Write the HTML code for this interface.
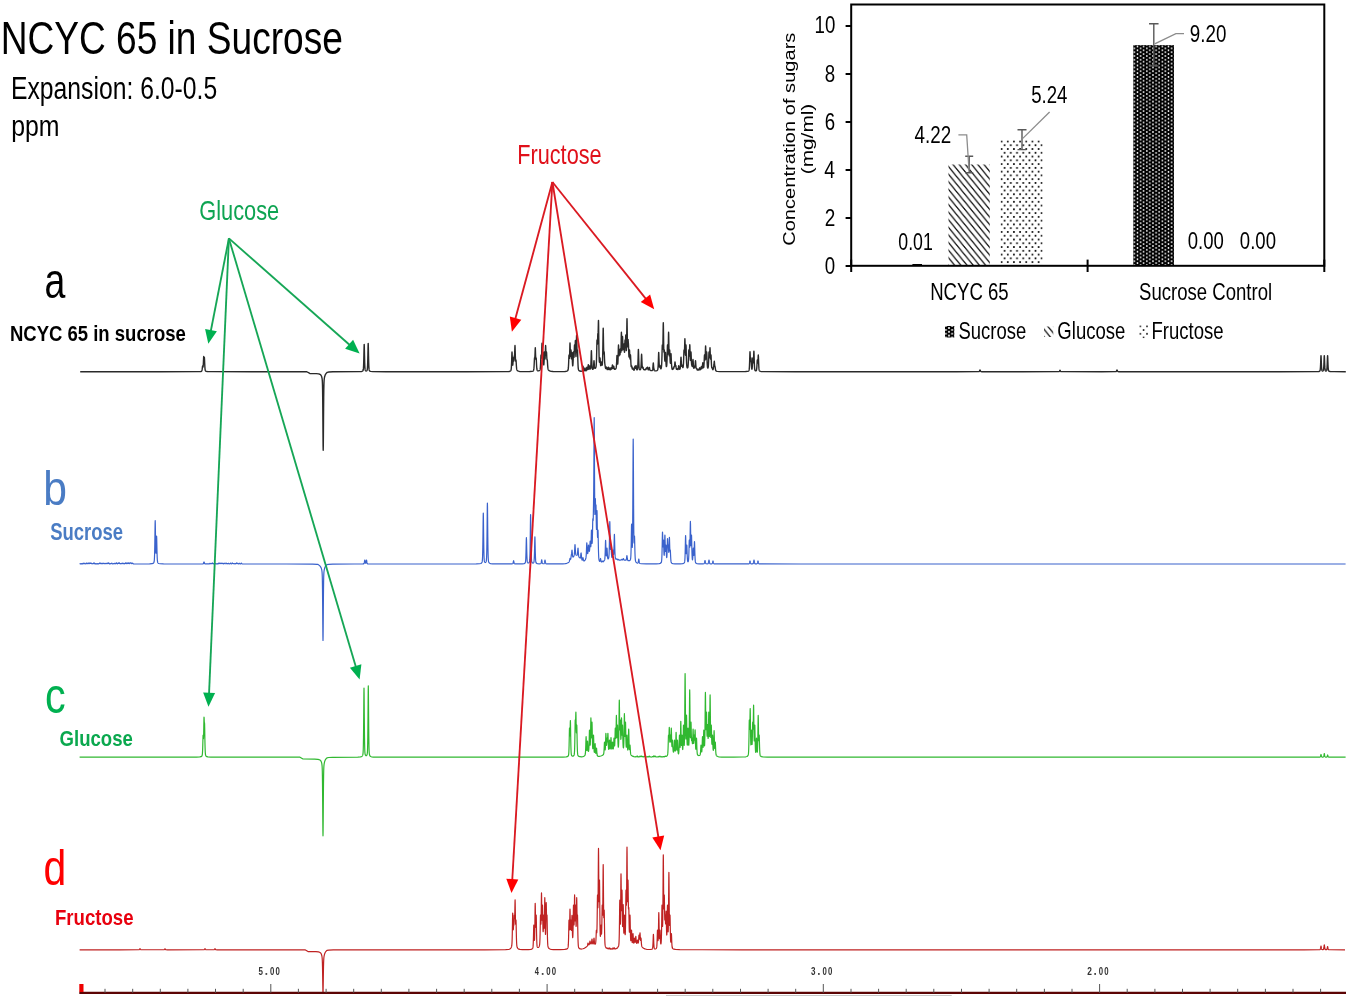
<!DOCTYPE html>
<html><head><meta charset="utf-8"><style>
html,body{margin:0;padding:0;background:#fff;width:1350px;height:999px;overflow:hidden}
svg{display:block;will-change:transform}
</style></head><body>
<svg width="1350" height="999" viewBox="0 0 1350 999">
<path d="M80.2,371.70 120.3,371.70 160.4,371.70 198.4,371.64 200.8,371.48 201.5,371.24 201.7,371.04 201.8,370.87 201.9,370.60 202.0,370.23 202.1,369.71 202.2,369.05 202.3,368.23 202.5,366.46 202.6,366.00 202.7,366.14 202.9,367.01 203.0,367.11 203.1,366.76 203.2,365.90 203.3,364.48 203.4,362.53 203.6,357.88 203.7,356.50 203.8,356.57 203.9,357.46 204.0,358.21 204.1,358.39 204.2,357.97 204.3,357.38 204.4,357.50 204.5,358.93 204.7,363.56 204.8,365.61 204.9,367.25 205.0,368.50 205.1,369.40 205.2,370.02 205.3,370.44 205.4,370.71 205.6,371.01 206.1,371.33 207.3,371.55 212.0,371.67 252.1,371.70 292.2,371.71 306.8,371.74 309.8,373.46 316.3,373.61 318.6,373.88 319.8,374.24 320.5,374.69 321.0,375.25 321.3,375.76 321.6,376.50 321.8,377.18 322.0,378.10 322.1,378.70 322.2,379.49 322.3,380.63 322.4,382.43 322.5,385.41 322.6,390.29 322.7,397.76 322.8,408.16 322.9,420.97 323.0,434.50 323.1,445.66 323.2,450.20 323.3,445.66 323.4,434.50 323.5,420.97 323.6,408.16 323.7,397.76 323.8,390.29 323.9,385.41 324.0,382.43 324.1,380.63 324.2,379.49 324.3,378.65 324.4,377.99 324.6,376.96 324.8,376.16 325.1,375.25 325.5,374.37 326.0,373.59 326.8,372.68 327.2,372.32 328.9,372.01 332.9,371.81 359.7,371.61 361.7,371.43 362.5,371.14 362.9,370.78 363.1,370.38 363.2,370.04 363.3,369.49 363.4,368.65 363.5,367.35 363.6,365.45 363.7,362.82 363.8,359.37 363.9,355.14 364.0,350.44 364.1,346.23 364.2,344.41 364.3,346.22 364.4,350.42 364.5,355.12 364.6,359.33 364.7,362.77 364.8,365.39 364.9,367.28 365.0,368.56 365.1,369.40 365.2,369.92 365.3,370.26 365.5,370.62 365.8,370.86 366.3,370.94 366.7,370.79 367.0,370.44 367.1,370.22 367.2,369.87 367.3,369.32 367.4,368.46 367.5,367.13 367.6,365.17 367.7,362.44 367.8,358.88 367.9,354.51 368.0,349.64 368.1,345.28 368.2,343.41 368.3,345.29 368.4,349.66 368.5,354.54 368.6,358.92 368.7,362.49 368.8,365.23 368.9,367.20 369.0,368.54 369.1,369.42 369.2,369.98 369.3,370.34 369.5,370.75 369.9,371.13 370.7,371.42 372.7,371.60 386.0,371.69 426.1,371.70 466.2,371.69 505.7,371.62 508.9,371.47 510.0,371.23 510.5,370.95 510.8,370.62 510.9,370.44 511.0,370.17 511.1,369.76 511.2,369.15 511.3,368.22 511.4,366.87 511.5,365.01 511.6,362.58 511.7,359.62 511.8,356.32 511.9,353.34 512.0,352.00 512.1,353.13 512.2,355.89 512.3,358.92 512.4,361.54 512.5,363.50 512.6,364.71 512.7,365.17 512.8,364.90 512.9,363.97 513.0,362.51 513.2,358.92 513.3,358.00 513.4,358.39 513.6,360.61 513.7,361.17 513.8,361.03 513.9,360.20 514.0,358.77 514.1,357.12 514.2,356.00 514.3,355.84 514.4,356.04 514.5,355.77 514.6,354.58 514.7,352.40 514.8,349.46 514.9,346.60 515.0,345.50 515.1,347.23 515.2,350.78 515.3,354.50 515.4,357.58 515.5,359.72 515.6,360.88 515.7,361.15 515.8,360.73 515.9,360.10 516.0,360.00 516.1,360.95 516.2,362.60 516.3,364.36 516.4,365.92 516.5,367.19 516.6,368.18 516.7,368.91 516.8,369.43 516.9,369.80 517.1,370.23 517.5,370.67 518.3,371.11 519.5,371.43 521.9,371.59 529.8,371.55 532.1,371.36 532.9,371.11 533.3,370.82 533.5,370.50 533.6,370.24 533.7,369.83 533.8,369.24 533.9,368.39 534.0,367.22 534.1,365.68 534.2,363.78 534.4,359.43 534.5,358.00 534.6,357.68 534.7,357.83 534.8,357.59 534.9,356.50 535.0,354.47 535.2,348.96 535.3,347.80 535.4,349.22 535.6,355.30 535.7,357.62 535.8,358.95 535.9,359.29 536.0,358.83 536.1,358.08 536.2,358.00 536.3,359.22 536.4,361.30 536.5,363.50 536.6,365.43 536.7,367.00 536.8,368.20 536.9,369.07 537.0,369.67 537.1,370.07 537.2,370.34 537.4,370.62 537.8,370.85 538.5,370.90 539.2,370.70 539.7,370.32 539.9,370.02 540.0,369.79 540.1,369.45 540.2,368.94 540.3,368.19 540.4,367.11 540.5,365.64 540.6,363.73 540.7,361.39 540.8,358.76 540.9,356.31 541.0,355.00 541.1,355.38 541.2,356.72 541.3,357.88 541.4,358.22 541.5,357.47 541.6,355.53 541.7,352.47 541.8,348.63 541.9,344.96 542.0,343.30 542.1,344.80 542.2,348.29 542.3,351.94 542.4,354.75 542.5,356.39 542.6,356.78 542.7,356.02 542.8,354.40 542.9,352.64 543.0,352.00 543.1,353.31 543.2,355.91 543.3,358.71 543.4,361.14 543.5,363.01 543.6,364.27 543.7,364.90 543.8,364.88 543.9,364.23 544.0,362.94 544.1,361.04 544.2,358.59 544.3,355.79 544.4,353.22 544.5,352.00 544.6,352.83 544.8,357.03 544.9,358.48 545.0,358.96 545.1,358.34 545.2,356.60 545.3,353.84 545.4,350.38 545.5,347.07 545.6,345.50 545.7,346.66 545.9,352.34 546.0,354.37 546.1,355.28 546.2,355.07 546.3,353.94 546.4,352.53 546.5,352.00 546.6,353.12 546.8,357.33 546.9,358.84 547.0,359.64 547.1,359.83 547.2,359.73 547.3,360.00 547.4,361.11 547.6,364.44 547.7,365.91 547.8,367.10 547.9,368.02 548.0,368.71 548.1,369.19 548.2,369.53 548.4,369.95 548.8,370.38 549.6,370.85 551.0,371.27 553.1,371.52 559.3,371.59 564.9,371.45 566.6,371.22 567.4,370.90 567.8,370.53 568.0,370.14 568.1,369.80 568.2,369.28 568.3,368.52 568.4,367.43 568.5,365.92 568.6,363.96 568.7,361.56 568.8,358.85 568.9,356.34 569.0,355.00 569.1,355.41 569.2,356.81 569.3,358.02 569.4,358.39 569.5,357.61 569.6,355.60 569.7,352.43 569.8,348.44 569.9,344.63 570.0,342.90 570.1,344.44 570.2,348.02 570.3,351.73 570.4,354.54 570.5,356.07 570.6,356.24 570.7,355.15 570.8,353.12 570.9,350.93 571.0,350.00 571.1,351.23 571.3,356.31 571.4,358.10 571.5,358.87 571.6,358.57 571.7,357.27 571.9,353.19 572.0,352.40 572.1,353.71 572.2,356.40 572.3,359.31 572.4,361.85 572.5,363.81 572.6,365.13 572.7,365.78 572.8,365.76 572.9,365.07 573.0,363.71 573.1,361.71 573.2,359.12 573.3,356.15 573.4,353.39 573.5,352.00 573.6,352.69 573.7,354.59 573.8,356.40 573.9,357.39 574.0,357.26 574.1,355.92 574.2,353.43 574.4,346.74 574.5,345.00 574.6,345.84 574.7,348.15 574.8,350.20 574.9,351.07 575.0,350.44 575.1,348.34 575.3,341.81 575.4,340.50 575.5,342.50 575.6,346.61 575.7,350.87 575.8,354.20 575.9,356.17 576.0,356.53 576.1,355.22 576.2,352.27 576.3,347.88 576.4,342.54 576.5,337.53 576.6,335.20 576.7,337.06 576.8,341.52 576.9,346.14 577.0,349.65 577.1,351.65 577.2,352.11 577.3,351.34 577.4,350.14 577.5,350.00 577.6,351.93 577.7,355.24 577.8,358.73 577.9,361.80 578.0,364.31 578.1,366.22 578.2,367.62 578.3,368.59 578.4,369.25 578.5,369.68 578.6,369.98 578.8,370.35 579.2,370.74 579.9,371.05 581.1,371.22 581.8,371.16 582.1,370.95 582.2,370.80 582.3,370.55 582.4,370.19 582.5,369.68 582.6,369.02 582.7,368.21 582.8,367.30 582.9,366.49 583.0,366.14 583.1,366.49 583.2,367.29 583.3,368.19 583.4,368.99 583.5,369.64 583.6,370.14 583.7,370.48 583.8,370.71 584.0,370.88 584.2,370.78 584.3,370.61 584.4,370.36 584.5,370.00 584.6,369.55 584.8,368.44 584.9,368.04 585.0,368.04 585.1,368.43 585.3,369.53 585.4,369.98 585.5,370.34 585.6,370.59 585.8,370.84 586.0,370.83 586.2,370.56 586.3,370.28 586.4,369.90 586.5,369.39 586.8,367.43 586.9,367.14 587.0,367.38 587.2,368.58 587.3,369.11 587.4,369.49 587.5,369.68 587.6,369.67 587.7,369.43 587.8,368.96 587.9,368.25 588.0,367.33 588.2,365.20 588.3,364.59 588.4,364.81 588.5,365.68 588.6,366.75 588.7,367.71 588.8,368.46 588.9,368.98 589.0,369.25 589.1,369.27 589.2,369.06 589.3,368.63 589.4,368.02 589.6,366.49 589.7,366.00 589.8,366.07 589.9,366.64 590.1,368.00 590.2,368.50 590.3,368.81 590.4,368.89 590.5,368.73 590.6,368.26 590.7,367.40 590.8,366.05 590.9,364.14 591.0,361.62 591.1,358.52 591.2,355.06 591.3,351.95 591.4,350.60 591.5,351.91 591.6,354.98 591.7,358.40 591.8,361.47 591.9,363.96 592.0,365.86 592.1,367.21 592.2,368.12 592.3,368.69 592.4,369.03 592.5,369.23 592.7,369.38 592.9,369.33 593.1,369.07 593.2,368.79 593.3,368.36 593.4,367.73 593.5,366.85 593.6,365.71 593.7,364.30 593.8,362.74 593.9,361.33 594.0,360.70 594.1,361.25 594.2,362.57 594.3,364.04 594.4,365.36 594.5,366.42 594.6,367.22 594.7,367.76 594.8,368.11 594.9,368.30 595.1,368.41 595.4,368.23 595.7,367.81 595.9,367.29 596.0,366.88 596.1,366.28 596.2,365.38 596.3,364.05 596.4,362.14 596.5,359.51 596.6,356.09 596.7,351.89 596.8,347.12 596.9,342.60 597.0,340.00 597.1,340.30 597.2,342.22 597.3,343.84 597.4,344.16 597.5,342.87 597.6,340.08 597.7,336.57 597.8,334.00 597.9,333.39 598.0,333.52 598.1,332.63 598.2,329.96 598.4,321.51 598.5,320.40 598.6,324.50 598.7,332.00 598.8,339.96 598.9,346.96 599.0,352.57 599.1,356.76 599.2,359.63 599.3,361.37 599.4,362.18 599.5,362.25 599.6,361.74 599.7,360.79 599.8,359.56 599.9,358.42 600.0,358.00 600.1,358.70 600.2,360.15 600.3,361.71 600.4,363.10 600.5,364.20 600.6,365.00 600.7,365.49 600.8,365.68 600.9,365.62 601.0,365.30 601.1,364.76 601.2,364.02 601.4,362.36 601.5,362.00 601.6,362.31 601.8,363.86 601.9,364.53 602.0,364.99 602.1,365.19 602.2,365.07 602.3,364.55 602.4,363.50 602.5,361.72 602.6,359.03 602.7,355.22 602.8,350.20 602.9,344.03 603.0,337.12 603.1,330.89 603.2,328.10 603.3,330.51 603.4,336.26 603.5,342.47 603.6,347.66 603.7,351.32 603.8,353.35 603.9,353.88 604.0,353.25 604.1,352.22 604.2,352.00 604.3,353.41 604.4,355.89 604.5,358.47 604.6,360.65 604.7,362.32 604.8,363.49 604.9,364.28 605.1,365.63 605.3,367.01 605.4,367.55 605.5,367.97 605.6,368.28 605.7,368.48 605.8,368.59 605.9,368.59 606.0,368.49 606.1,368.30 606.3,367.65 606.4,367.28 606.5,367.06 606.6,367.15 606.7,367.54 606.9,368.49 607.0,368.88 607.1,369.18 607.3,369.55 607.5,369.63 607.7,369.43 607.8,369.20 607.9,368.87 608.1,367.96 608.2,367.47 608.3,367.19 608.4,367.31 608.5,367.75 608.7,368.78 608.8,369.18 608.9,369.46 609.0,369.63 609.1,369.68 609.2,369.62 609.3,369.45 609.4,369.19 609.7,368.13 609.8,368.04 609.9,368.25 610.1,369.01 610.2,369.33 610.3,369.56 610.4,369.69 610.5,369.70 610.6,369.61 610.7,369.40 610.8,369.08 611.1,367.83 611.2,367.68 611.3,367.87 611.5,368.59 611.6,368.84 611.7,368.94 611.8,368.86 611.9,368.58 612.0,368.08 612.1,367.39 612.3,365.65 612.4,365.03 612.5,365.04 612.6,365.66 612.8,367.29 612.9,367.91 613.0,368.32 613.1,368.49 613.2,368.45 613.3,368.19 613.4,367.76 613.6,366.63 613.7,366.29 613.8,366.41 613.9,366.90 614.1,368.07 614.2,368.53 614.3,368.88 614.4,369.12 614.6,369.36 614.9,369.40 615.5,369.10 615.8,368.80 616.0,368.43 616.1,368.12 616.2,367.66 616.3,366.98 616.4,366.00 616.5,364.67 616.6,362.95 616.7,360.84 616.8,358.50 616.9,356.38 617.0,355.40 617.1,356.14 617.2,358.01 617.3,360.07 617.4,361.85 617.5,363.15 617.6,363.91 617.7,364.06 617.8,363.55 617.9,362.32 618.0,360.34 618.1,357.60 618.2,354.15 618.3,350.26 618.4,346.70 618.5,345.00 618.6,346.13 618.7,349.03 618.8,352.06 618.9,354.35 619.0,355.57 619.1,355.67 619.2,354.69 619.3,352.91 619.4,350.97 619.5,350.00 619.6,350.73 619.7,352.44 619.8,354.00 619.9,354.82 620.0,354.70 620.1,353.62 620.2,351.79 620.3,349.81 620.4,348.80 620.5,349.46 620.6,351.01 620.7,352.21 620.8,352.36 620.9,351.13 621.0,348.42 621.1,344.31 621.2,339.23 621.3,334.44 621.4,332.30 621.5,334.33 621.6,339.00 621.7,343.91 621.8,347.76 621.9,350.03 622.0,350.55 622.1,349.33 622.2,346.53 622.4,338.56 622.5,336.40 622.6,337.31 622.8,342.73 622.9,344.40 623.0,344.92 623.1,344.76 623.2,345.00 623.3,346.38 623.4,348.23 623.5,349.50 623.6,349.70 623.7,348.74 623.8,346.86 623.9,344.80 624.0,344.00 624.1,345.38 624.2,348.03 624.3,350.52 624.4,352.05 624.5,352.32 624.6,351.24 624.7,348.87 624.8,345.51 624.9,342.02 625.0,340.00 625.1,340.42 625.2,342.13 625.3,343.40 625.4,343.36 625.5,341.81 625.6,339.01 625.7,336.04 625.8,335.00 625.9,337.27 626.1,345.91 626.2,349.09 626.3,350.60 626.4,350.16 626.5,347.63 626.6,343.01 626.7,336.54 626.8,328.86 626.9,321.76 627.0,318.60 627.1,321.51 627.2,328.27 627.3,335.48 627.4,341.31 627.5,345.13 627.6,346.77 627.7,346.34 627.8,344.21 627.9,341.34 628.0,339.40 628.1,339.52 628.3,342.21 628.4,343.30 628.5,345.00 628.6,347.92 628.7,351.36 628.8,354.29 628.9,356.20 629.0,356.95 629.1,356.57 629.2,355.17 629.4,350.90 629.5,350.00 629.6,351.16 629.8,356.06 629.9,357.89 630.0,358.88 630.1,358.97 630.2,358.24 630.4,355.46 630.5,355.00 630.6,356.19 630.7,358.45 630.8,360.88 630.9,363.00 631.0,364.66 631.1,365.84 631.2,366.54 631.3,366.83 631.4,366.79 631.5,366.52 631.6,366.16 631.7,365.98 631.8,366.22 631.9,366.80 632.1,368.07 632.2,368.54 632.3,368.86 632.4,369.02 632.5,369.02 632.6,368.89 632.8,368.31 632.9,368.01 633.0,367.90 633.1,368.09 633.4,369.32 633.6,369.88 633.8,370.15 634.0,370.20 634.2,370.01 634.3,369.80 634.4,369.47 634.5,369.02 634.6,368.42 634.8,366.93 634.9,366.30 635.0,366.13 635.1,366.51 635.3,367.73 635.4,368.14 635.5,368.30 635.6,368.19 635.7,367.82 635.8,367.22 636.0,365.81 636.1,365.59 636.2,366.01 636.4,367.63 636.5,368.36 636.6,368.94 636.7,369.37 636.8,369.65 636.9,369.81 637.1,369.88 637.3,369.67 637.4,369.42 637.5,369.01 637.6,368.36 637.7,367.36 637.8,365.88 637.9,363.81 638.0,361.12 638.1,357.81 638.2,354.13 638.3,350.83 638.4,349.40 638.5,350.81 638.6,354.09 638.7,357.75 638.8,361.03 638.9,363.70 639.0,365.74 639.1,367.20 639.2,368.19 639.3,368.82 639.4,369.22 639.5,369.46 639.7,369.69 640.0,369.78 640.3,369.69 640.5,369.49 640.6,369.29 640.7,368.98 640.8,368.48 640.9,367.72 641.0,366.60 641.1,365.05 641.2,363.02 641.3,360.54 641.4,357.77 641.5,355.28 641.6,354.20 641.7,355.25 641.8,357.70 641.9,360.43 642.0,362.86 642.1,364.83 642.2,366.29 642.3,367.28 642.4,367.86 642.5,368.11 642.6,368.11 642.7,367.93 642.9,367.35 643.0,367.25 643.1,367.46 643.4,368.71 643.6,369.28 643.8,369.59 644.1,369.74 644.6,369.66 644.9,369.54 645.5,369.72 645.7,369.64 645.9,369.37 646.1,368.85 646.3,368.15 646.4,367.90 646.5,367.89 646.8,368.58 646.9,368.68 647.0,368.64 647.1,368.46 647.2,368.14 647.4,367.32 647.5,367.13 647.6,367.33 647.9,368.78 648.0,369.17 648.1,369.47 648.3,369.81 648.5,369.88 648.7,369.69 648.8,369.48 648.9,369.17 649.0,368.77 649.2,367.78 649.3,367.40 649.4,367.37 649.5,367.73 649.7,368.82 649.8,369.29 649.9,369.66 650.1,370.15 650.3,370.39 650.9,370.61 651.9,370.66 652.2,370.55 652.4,370.32 652.5,370.08 652.6,369.71 652.7,369.16 652.8,368.39 652.9,367.38 653.0,366.14 653.1,364.77 653.2,363.53 653.3,363.00 653.4,363.54 653.5,364.79 653.6,366.18 653.7,367.43 653.8,368.45 653.9,369.23 654.0,369.80 654.1,370.18 654.2,370.43 654.4,370.69 654.9,370.87 656.0,370.86 656.9,370.62 657.4,370.27 657.6,369.97 657.7,369.72 657.8,369.34 657.9,368.75 658.0,367.87 658.1,366.58 658.2,364.80 658.3,362.48 658.4,359.65 658.5,356.49 658.6,353.65 658.7,352.40 658.8,353.55 658.9,356.29 659.0,359.33 659.1,362.02 659.2,364.15 659.3,365.67 659.4,366.62 659.5,367.05 659.6,367.06 659.7,366.75 659.9,365.72 660.0,365.50 660.1,365.79 660.4,367.68 660.5,368.14 660.6,368.46 660.7,368.65 660.8,368.74 660.9,368.72 661.1,368.46 661.2,368.20 661.3,367.82 661.4,367.27 661.5,366.48 661.6,365.35 661.7,363.73 661.8,361.50 661.9,358.57 662.0,354.96 662.1,350.88 662.2,347.06 662.3,345.00 662.4,345.56 662.5,347.55 662.6,349.20 662.7,349.45 662.8,347.85 662.9,344.25 663.0,338.76 663.1,331.96 663.2,325.57 663.3,322.80 663.4,325.72 663.5,332.30 663.6,339.35 663.7,345.20 663.8,349.32 663.9,351.60 664.0,352.19 664.1,351.47 664.2,350.29 664.3,350.00 664.4,351.51 664.6,356.92 664.7,359.11 664.8,360.52 664.9,361.06 665.0,360.72 665.1,359.56 665.2,357.71 665.3,355.40 665.4,353.25 665.5,352.40 665.6,353.58 665.7,356.10 665.8,358.87 665.9,361.32 666.0,363.30 666.1,364.77 666.2,365.78 666.3,366.39 666.4,366.66 666.5,366.64 666.6,366.33 666.7,365.68 666.8,364.62 666.9,363.05 667.0,360.86 667.1,357.99 667.2,354.44 667.3,350.43 667.4,346.77 667.5,345.00 667.6,346.10 667.8,351.79 667.9,353.63 668.0,354.02 668.1,352.75 668.2,349.78 668.3,345.28 668.4,339.74 668.5,334.56 668.6,332.30 668.7,334.64 668.8,339.95 668.9,345.69 669.0,350.48 669.1,353.84 669.2,355.62 669.3,355.89 669.4,354.84 669.5,352.86 669.6,350.78 669.7,350.00 669.8,351.42 669.9,354.31 670.0,357.40 670.1,360.03 670.2,361.94 670.3,363.05 670.4,363.30 670.5,362.71 670.6,361.35 670.7,359.32 670.8,356.86 670.9,354.58 671.0,353.60 671.1,354.64 671.2,357.00 671.3,359.58 671.4,361.85 671.5,363.68 671.6,365.13 671.7,366.33 671.8,367.31 671.9,368.06 672.0,368.60 672.1,368.98 672.2,369.24 672.3,369.39 672.4,369.46 672.6,369.35 672.8,368.95 673.0,368.43 673.1,368.33 673.2,368.42 673.4,368.74 673.5,368.76 673.6,368.63 673.7,368.34 673.8,367.89 674.0,366.78 674.1,366.46 674.2,366.48 674.3,366.64 674.4,366.66 674.5,366.39 674.6,365.77 674.7,364.82 674.9,362.45 675.0,361.90 675.1,362.31 675.3,364.34 675.4,365.10 675.5,365.49 675.6,365.56 675.7,365.46 675.8,365.49 675.9,365.93 676.1,367.47 676.2,368.16 676.3,368.69 676.4,369.05 676.5,369.26 676.6,369.33 676.7,369.27 677.0,368.71 677.1,368.62 677.2,368.74 677.5,369.42 677.7,369.66 677.9,369.63 678.0,369.48 678.1,369.23 678.2,368.85 678.3,368.34 678.4,367.70 678.6,366.20 678.7,365.72 678.8,365.79 678.9,366.33 679.1,367.72 679.2,368.27 679.3,368.69 679.4,368.98 679.5,369.16 679.7,369.27 679.9,369.14 680.0,368.97 680.1,368.70 680.2,368.28 680.3,367.65 680.4,366.73 680.5,365.47 680.6,363.86 680.7,361.91 680.8,359.79 680.9,357.91 681.0,357.10 681.1,357.90 681.2,359.75 681.3,361.78 681.4,363.55 681.5,364.90 681.6,365.79 681.7,366.26 681.8,366.34 681.9,366.13 682.1,365.34 682.2,365.24 682.3,365.55 682.5,366.63 682.6,367.07 682.7,367.39 682.8,367.57 682.9,367.60 683.0,367.47 683.1,367.16 683.2,366.60 683.3,365.72 683.4,364.44 683.5,362.69 683.6,360.42 683.7,357.67 683.8,354.58 683.9,351.66 684.0,350.00 684.1,350.22 684.2,351.43 684.3,352.29 684.4,352.07 684.5,350.53 684.6,347.70 684.7,343.93 684.8,340.29 684.9,338.80 685.0,340.76 685.1,344.89 685.2,349.19 685.3,352.58 685.4,354.63 685.5,355.20 685.6,354.32 685.7,352.16 685.8,349.12 685.9,346.17 686.0,345.00 686.1,346.73 686.2,350.38 686.3,354.38 686.4,357.95 686.5,360.87 686.6,363.13 686.7,364.79 686.8,365.95 686.9,366.73 687.0,367.23 687.1,367.55 687.3,367.87 687.5,367.94 687.7,367.80 687.8,367.59 687.9,367.24 688.0,366.67 688.1,365.78 688.2,364.47 688.3,362.66 688.4,360.32 688.5,357.48 688.6,354.32 688.7,351.43 688.8,350.00 688.9,350.78 689.0,352.85 689.1,354.84 689.2,355.98 689.3,355.96 689.4,354.70 689.5,352.27 689.6,349.04 689.7,345.94 689.8,344.70 689.9,346.40 690.0,349.99 690.1,353.83 690.2,357.03 690.3,359.26 690.4,360.40 690.5,360.44 690.6,359.45 690.7,357.59 690.8,355.17 690.9,352.90 691.0,352.00 691.1,353.24 691.2,355.87 691.3,358.70 691.4,361.15 691.5,363.02 691.6,364.28 691.7,365.01 691.8,365.33 691.9,365.47 692.0,365.71 692.2,366.42 692.3,366.52 692.4,366.30 692.5,365.69 692.6,364.68 692.7,363.30 692.8,361.66 692.9,360.15 693.0,359.50 693.1,360.20 693.2,361.82 693.3,363.63 693.4,365.25 693.5,366.54 693.6,367.49 693.7,368.10 693.8,368.39 693.9,368.41 694.0,368.20 694.1,367.80 694.3,366.68 694.4,366.29 694.5,366.30 694.7,367.00 694.8,367.16 694.9,367.01 695.0,366.49 695.1,365.57 695.2,364.28 695.3,362.74 695.4,361.32 695.5,360.70 695.6,361.33 695.7,362.81 695.8,364.45 695.9,365.91 696.0,367.04 696.1,367.84 696.2,368.31 696.3,368.51 696.4,368.51 696.6,368.37 696.7,368.54 697.0,369.53 697.2,369.95 697.4,370.07 697.6,369.92 698.0,369.19 698.1,369.20 698.5,369.95 698.7,370.13 698.9,370.09 699.1,369.78 699.2,369.51 699.4,368.73 699.5,368.27 699.6,367.90 699.7,367.81 699.8,368.04 700.1,369.19 700.2,369.45 700.3,369.63 700.5,369.74 700.6,369.67 700.7,369.52 700.8,369.28 700.9,368.93 701.0,368.47 701.3,366.69 701.4,366.43 701.5,366.63 701.7,367.64 701.8,368.07 701.9,368.35 702.0,368.45 702.1,368.34 702.2,368.01 702.3,367.43 702.4,366.60 702.5,365.56 702.6,364.38 702.7,363.30 702.8,362.80 702.9,363.20 703.0,364.18 703.1,365.29 703.2,366.26 703.3,367.01 703.4,367.52 703.5,367.79 703.6,367.80 703.7,367.55 703.8,366.98 703.9,366.06 704.0,364.72 704.1,362.96 704.2,360.77 704.3,358.33 704.4,356.09 704.5,355.00 704.6,355.63 704.8,358.92 704.9,359.94 705.0,360.07 705.1,359.17 705.2,357.21 705.3,354.30 705.4,350.75 705.5,347.41 705.6,345.90 705.7,347.25 705.8,350.44 705.9,353.87 706.0,356.65 706.1,358.42 706.2,359.05 706.3,358.58 706.4,357.11 706.6,352.85 706.7,352.00 706.8,353.24 706.9,355.87 707.0,358.78 707.1,361.42 707.2,363.59 707.3,365.26 707.4,366.45 707.5,367.25 707.6,367.75 707.7,368.02 707.8,368.13 707.9,368.11 708.0,367.96 708.1,367.65 708.2,367.15 708.3,366.40 708.4,365.29 708.5,363.73 708.6,361.64 708.7,359.04 708.8,356.10 708.9,353.38 709.0,352.00 709.1,352.67 709.3,356.40 709.4,357.52 709.5,357.63 709.6,356.62 709.7,354.54 709.9,348.90 710.0,347.70 710.1,349.07 710.2,352.04 710.3,355.11 710.4,357.47 710.5,358.83 710.6,359.13 710.7,358.45 710.8,357.04 710.9,355.53 711.0,355.00 711.1,356.20 711.2,358.57 711.3,361.13 711.4,363.39 711.5,365.19 711.6,366.51 711.7,367.37 711.8,367.84 711.9,368.00 712.1,367.83 712.2,367.81 712.3,368.04 712.6,369.22 712.7,369.49 712.8,369.65 712.9,369.70 713.0,369.63 713.1,369.42 713.2,369.08 713.3,368.59 713.4,367.95 713.6,366.54 713.8,365.58 713.9,364.97 714.0,364.05 714.2,361.76 714.3,361.30 714.4,361.90 714.6,364.44 714.7,365.44 714.8,366.08 714.9,366.39 715.0,366.54 715.1,366.83 715.2,367.43 715.4,368.90 715.5,369.51 715.6,370.00 715.7,370.37 715.9,370.83 716.2,371.12 717.1,371.38 719.8,371.58 734.7,371.66 745.6,371.57 747.6,371.38 748.4,371.09 748.7,370.85 748.9,370.54 749.0,370.28 749.1,369.88 749.2,369.26 749.3,368.33 749.4,366.96 749.5,365.07 749.6,362.61 749.7,359.58 749.8,356.21 749.9,353.14 750.0,351.70 750.1,352.72 750.2,355.29 750.3,357.99 750.4,360.09 750.5,361.31 750.6,361.59 750.7,361.01 750.8,359.79 750.9,358.47 751.0,358.00 751.1,359.02 751.2,361.03 751.3,363.20 751.4,365.12 751.5,366.66 751.6,367.80 751.7,368.57 751.8,369.01 751.9,369.15 752.0,369.00 752.1,368.56 752.2,367.78 752.3,366.63 752.4,365.07 752.5,363.14 752.6,360.96 752.7,358.96 752.8,358.00 752.9,358.60 753.1,361.69 753.2,362.69 753.3,362.89 753.4,362.19 753.5,360.56 753.6,358.09 753.7,355.07 753.8,352.26 753.9,351.10 754.0,352.53 754.1,355.66 754.2,359.14 754.3,362.24 754.4,364.78 754.5,366.72 754.6,368.12 754.7,369.08 754.8,369.70 754.9,370.10 755.0,370.36 755.2,370.64 755.6,370.84 756.0,370.81 756.2,370.68 756.3,370.55 756.4,370.34 756.5,370.00 756.6,369.48 756.7,368.72 756.8,367.66 756.9,366.28 757.0,364.58 757.1,362.66 757.2,360.90 757.3,360.00 757.4,360.40 757.6,362.63 757.7,363.16 757.8,362.96 757.9,361.97 758.0,360.24 758.1,357.99 758.2,355.85 758.3,355.00 758.4,356.20 758.5,358.77 758.6,361.59 758.7,364.12 758.8,366.18 758.9,367.76 759.0,368.90 759.1,369.68 759.2,370.19 759.3,370.53 759.5,370.89 759.9,371.20 760.8,371.45 763.6,371.62 795.9,371.69 836.0,371.70 876.1,371.70 916.2,371.70 956.3,371.70 978.6,371.65 979.2,371.51 979.4,371.31 979.6,370.93 979.9,370.11 980.0,370.00 980.1,370.11 980.4,370.93 980.6,371.31 980.9,371.57 982.0,371.68 1022.1,371.70 1058.7,371.65 1059.2,371.55 1059.5,371.25 1059.9,370.39 1060.0,370.30 1060.1,370.39 1060.5,371.25 1060.8,371.55 1061.5,371.67 1101.6,371.70 1115.7,371.65 1116.2,371.51 1116.4,371.31 1116.6,370.93 1116.9,370.11 1117.0,370.00 1117.1,370.11 1117.4,370.93 1117.6,371.31 1117.9,371.57 1119.0,371.68 1159.1,371.70 1199.2,371.70 1239.3,371.70 1279.4,371.70 1316.4,371.64 1318.8,371.48 1319.5,371.26 1319.8,371.04 1320.0,370.69 1320.1,370.37 1320.2,369.87 1320.3,369.11 1320.4,367.99 1320.5,366.44 1320.6,364.41 1320.7,361.92 1320.8,359.15 1320.9,356.67 1321.0,355.60 1321.1,356.66 1321.2,359.13 1321.3,361.89 1321.4,364.36 1321.5,366.38 1321.6,367.92 1321.7,369.03 1321.8,369.77 1321.9,370.26 1322.0,370.56 1322.2,370.86 1322.5,371.01 1322.9,370.98 1323.2,370.73 1323.3,370.54 1323.4,370.24 1323.5,369.75 1323.6,369.00 1323.7,367.90 1323.8,366.36 1323.9,364.35 1324.0,361.88 1324.1,359.13 1324.2,356.66 1324.3,355.60 1324.4,356.66 1324.5,359.13 1324.6,361.88 1324.7,364.35 1324.8,366.36 1324.9,367.90 1325.0,369.00 1325.1,369.75 1325.2,370.24 1325.3,370.54 1325.5,370.85 1325.8,371.01 1326.2,370.99 1326.5,370.75 1326.6,370.56 1326.7,370.26 1326.8,369.77 1326.9,369.03 1327.0,367.92 1327.1,366.38 1327.2,364.36 1327.3,361.89 1327.4,359.13 1327.5,356.66 1327.6,355.60 1327.7,356.67 1327.8,359.15 1327.9,361.92 1328.0,364.41 1328.1,366.44 1328.2,367.99 1328.3,369.11 1328.4,369.87 1328.5,370.37 1328.6,370.69 1328.8,371.04 1329.2,371.31 1330.2,371.53 1334.1,371.66 1345.8,371.69" fill="none" stroke="#2a2a2a" stroke-width="1.4" stroke-linejoin="round"/>
<path d="M79.6,563.85 80.0,563.68 80.7,563.92 81.3,563.86 81.8,563.60 82.5,563.83 82.8,563.70 83.2,563.25 83.3,563.21 83.6,563.52 83.9,563.77 84.2,563.80 84.5,563.61 84.8,563.25 84.9,563.20 85.1,563.36 85.4,563.70 85.8,563.86 86.2,563.75 86.5,563.41 86.8,562.96 86.9,562.97 87.3,563.56 87.6,563.75 87.9,563.65 88.3,563.16 88.4,563.08 88.5,563.12 88.9,563.61 89.2,563.69 89.4,563.55 89.7,563.05 89.8,562.85 89.9,562.74 90.0,562.78 90.4,563.43 90.6,563.52 90.8,563.39 91.1,563.02 91.2,563.03 91.7,563.69 92.0,563.82 92.4,563.74 92.7,563.62 93.2,563.74 93.5,563.55 93.9,562.85 94.0,562.77 94.1,562.85 94.5,563.58 94.8,563.83 95.2,563.86 95.8,563.65 96.4,563.85 96.9,563.71 97.2,563.68 97.8,563.90 98.4,563.84 98.9,563.59 99.3,563.60 99.5,563.45 99.9,562.75 100.0,562.73 100.2,563.06 100.5,563.57 100.8,563.73 101.1,563.60 101.4,563.38 101.9,563.61 102.2,563.48 102.4,563.32 102.6,563.39 103.0,563.71 103.3,563.68 103.8,563.18 104.0,563.30 104.3,563.59 104.6,563.61 104.9,563.57 105.3,563.73 105.6,563.64 106.0,563.27 106.2,563.35 106.5,563.63 106.8,563.64 107.1,563.34 107.3,563.10 107.4,563.10 107.8,563.54 108.0,563.58 108.2,563.42 108.5,562.91 108.6,562.80 108.7,562.83 109.1,563.54 109.4,563.81 109.9,563.88 110.6,563.63 111.1,563.74 111.4,563.57 111.7,563.19 111.8,563.14 112.0,563.32 112.3,563.69 112.7,563.87 113.2,563.79 113.6,563.63 114.1,563.74 114.4,563.57 114.7,563.26 114.8,563.25 115.3,563.72 115.6,563.79 115.9,563.60 116.2,563.10 116.4,562.80 116.5,562.84 116.9,563.53 117.2,563.78 117.5,563.79 117.8,563.59 118.2,562.97 118.3,562.91 118.5,563.09 118.7,563.30 118.9,563.28 119.1,563.03 119.3,562.74 119.4,562.75 119.8,563.48 120.1,563.77 120.5,563.79 121.0,563.62 121.5,563.74 121.8,563.56 122.1,563.15 122.2,563.08 122.3,563.12 122.7,563.61 123.0,563.71 123.3,563.51 123.5,563.30 123.6,563.25 123.8,563.40 124.2,563.76 124.6,563.81 124.9,563.60 125.3,562.96 125.4,562.88 125.5,562.94 125.9,563.56 126.2,563.71 126.5,563.52 126.9,562.93 127.0,562.92 127.4,563.49 127.6,563.61 127.8,563.55 128.0,563.29 128.3,562.75 128.4,562.74 128.6,563.07 128.9,563.56 129.2,563.69 129.4,563.59 129.7,563.13 129.9,562.77 130.0,562.74 130.4,563.25 130.6,563.25 130.9,562.88 131.0,562.82 131.1,562.89 131.5,563.55 131.8,563.72 132.1,563.57 132.5,563.01 132.6,563.00 132.8,563.26 133.1,563.69 133.5,563.90 137.0,563.98 149.6,563.89 152.0,563.70 153.0,563.40 153.5,563.04 153.8,562.64 154.0,562.17 154.1,561.79 154.2,561.23 154.3,560.36 154.4,559.02 154.5,556.97 154.6,553.97 154.7,549.81 154.8,544.37 154.9,537.72 155.0,530.30 155.1,523.63 155.2,520.70 155.3,523.42 155.4,529.85 155.5,536.98 155.6,543.24 155.7,548.10 155.8,551.39 155.9,553.08 156.0,553.23 156.1,551.95 156.2,549.40 156.3,545.78 156.4,541.50 156.5,537.60 156.6,536.00 156.7,537.94 156.8,542.21 156.9,546.95 157.0,551.19 157.1,554.66 157.2,557.32 157.3,559.25 157.4,560.57 157.5,561.44 157.6,562.01 157.7,562.38 157.9,562.82 158.2,563.17 158.8,563.51 160.0,563.77 163.5,563.93 200.7,563.99 202.9,563.90 203.2,563.78 203.4,563.54 203.6,563.10 203.9,562.13 204.0,562.00 204.1,562.13 204.4,563.10 204.6,563.54 204.8,563.77 205.3,563.93 208.9,563.95 209.4,563.82 209.8,563.42 210.0,563.26 210.2,563.41 210.5,563.71 210.8,563.79 211.4,563.61 211.7,563.61 212.0,563.32 212.2,563.03 212.3,562.98 212.5,563.21 212.8,563.65 213.1,563.83 213.5,563.79 213.9,563.55 214.1,563.58 214.5,563.76 214.8,563.67 215.2,563.33 215.4,563.45 215.8,563.81 216.3,563.90 216.8,563.71 217.1,563.62 217.7,563.88 218.2,563.85 218.5,563.64 218.9,563.03 219.0,562.95 219.1,563.00 219.5,563.54 219.7,563.61 220.0,563.40 220.2,563.20 220.3,563.20 220.8,563.68 221.1,563.65 221.6,563.14 221.8,563.29 222.1,563.56 222.4,563.51 222.7,563.33 223.3,563.78 223.6,563.79 223.9,563.59 224.2,563.24 224.3,563.20 224.5,563.38 224.8,563.70 225.1,563.81 225.4,563.70 225.7,563.33 225.9,563.03 226.0,562.99 226.2,563.23 226.5,563.63 226.8,563.72 227.2,563.58 227.8,563.80 228.1,563.72 228.6,563.25 228.8,563.39 229.2,563.78 229.6,563.88 230.0,563.75 230.3,563.42 230.5,563.16 230.6,563.14 231.1,563.70 231.4,563.82 231.7,563.72 232.0,563.35 232.2,563.01 232.3,562.92 232.4,562.98 232.8,563.57 233.1,563.70 233.6,563.50 234.2,563.82 234.6,563.72 235.0,563.47 235.6,563.81 235.9,563.80 236.2,563.57 236.6,562.96 236.7,562.95 237.1,563.49 237.3,563.58 237.6,563.41 237.8,563.29 238.0,563.43 238.4,563.79 238.8,563.83 239.1,563.64 239.4,563.34 239.5,563.31 240.1,563.82 240.5,563.88 240.8,563.77 241.1,563.45 241.3,563.17 241.4,563.11 241.6,563.31 241.9,563.71 242.3,563.92 246.2,563.99 286.3,564.01 312.7,564.10 317.1,564.29 318.0,564.40 319.3,565.37 320.1,566.18 320.6,566.88 321.2,568.07 321.5,568.90 321.7,569.68 321.8,570.17 321.9,570.77 322.0,571.55 322.1,572.67 322.2,574.43 322.3,577.35 322.4,582.12 322.5,589.41 322.6,599.55 322.7,612.03 322.8,625.21 322.9,636.08 323.0,640.50 323.1,636.08 323.2,625.21 323.3,612.03 323.4,599.55 323.5,589.41 323.6,582.12 323.7,577.35 323.8,574.43 323.9,572.67 324.0,571.55 324.1,570.72 324.2,570.07 324.4,569.06 324.6,568.29 324.9,567.40 325.3,566.56 325.8,565.80 326.6,564.96 327.0,564.62 328.7,564.31 332.7,564.11 354.4,564.01 362.9,563.93 363.7,563.79 364.0,563.54 364.1,563.35 364.2,563.07 364.3,562.69 364.4,562.19 364.7,560.28 364.8,560.01 364.9,560.26 365.2,562.11 365.3,562.58 365.4,562.93 365.5,563.15 365.6,563.26 365.7,563.26 365.8,563.15 365.9,562.93 366.0,562.58 366.1,562.11 366.4,560.26 366.5,560.01 366.6,560.28 366.9,562.19 367.0,562.69 367.1,563.07 367.2,563.35 367.4,563.66 367.8,563.85 369.9,563.98 410.0,564.00 450.1,563.99 476.3,563.91 479.6,563.73 480.8,563.47 481.4,563.13 481.8,562.67 482.0,562.26 482.1,561.95 482.2,561.51 482.3,560.86 482.4,559.85 482.5,558.27 482.6,555.85 482.7,552.31 482.8,547.38 482.9,540.94 483.0,533.05 483.1,524.27 483.2,516.40 483.3,513.00 483.4,516.38 483.5,524.23 483.6,533.00 483.7,540.86 483.8,547.28 483.9,552.18 484.0,555.71 484.1,558.10 484.2,559.66 484.3,560.64 484.4,561.26 484.5,561.67 484.7,562.13 485.0,562.45 485.3,562.54 485.6,562.44 485.9,562.12 486.1,561.69 486.2,561.35 486.3,560.86 486.4,560.11 486.5,558.92 486.6,557.05 486.7,554.18 486.8,549.95 486.9,544.07 487.0,536.38 487.1,526.96 487.2,516.46 487.3,507.05 487.4,503.00 487.5,507.07 487.6,516.49 487.7,527.01 487.8,536.45 487.9,544.16 488.0,550.05 488.1,554.30 488.2,557.19 488.3,559.08 488.4,560.29 488.5,561.07 488.6,561.59 488.7,561.95 488.9,562.44 489.2,562.89 489.7,563.29 490.6,563.61 492.6,563.83 500.3,563.96 511.8,563.91 512.6,563.77 512.8,563.61 513.0,563.22 513.1,562.91 513.2,562.49 513.5,560.92 513.6,560.70 513.7,560.92 514.0,562.49 514.1,562.90 514.2,563.22 514.4,563.60 514.7,563.81 516.1,563.93 522.3,563.85 524.0,563.66 524.7,563.40 525.1,563.04 525.3,562.66 525.4,562.32 525.5,561.80 525.6,560.99 525.7,559.74 525.8,557.92 525.9,555.38 526.0,552.07 526.1,548.02 526.2,543.50 526.3,539.45 526.4,537.70 526.5,539.43 526.6,543.47 526.7,547.97 526.8,552.01 526.9,555.30 527.0,557.82 527.1,559.63 527.2,560.85 527.3,561.65 527.4,562.15 527.5,562.46 527.7,562.80 528.0,563.00 528.5,563.01 528.9,562.79 529.2,562.40 529.4,561.91 529.5,561.51 529.6,560.89 529.7,559.92 529.8,558.40 529.9,556.07 530.0,552.65 530.1,547.90 530.2,541.68 530.3,534.07 530.4,525.58 530.5,517.98 530.6,514.70 530.7,517.98 530.8,525.58 530.9,534.07 531.0,541.68 531.1,547.90 531.2,552.66 531.3,556.08 531.4,558.40 531.5,559.92 531.6,560.89 531.7,561.51 531.8,561.92 532.0,562.41 532.3,562.79 532.7,563.03 533.2,563.04 533.5,562.89 533.7,562.65 533.8,562.44 533.9,562.11 534.0,561.60 534.1,560.77 534.2,559.51 534.3,557.65 534.4,555.05 534.5,551.65 534.6,547.49 534.7,542.85 534.8,538.69 534.9,536.90 535.0,538.70 535.1,542.88 535.2,547.53 535.3,551.71 535.4,555.12 535.5,557.73 535.6,559.61 535.7,560.90 535.8,561.74 535.9,562.27 536.0,562.62 536.2,563.01 536.6,563.38 537.4,563.66 539.2,563.81 540.5,563.73 540.8,563.57 541.0,563.25 541.1,562.97 541.2,562.57 541.3,562.05 541.6,560.07 541.7,559.80 541.8,560.07 542.1,562.05 542.2,562.57 542.3,562.97 542.4,563.25 542.6,563.57 543.0,563.75 543.8,563.74 544.1,563.60 544.3,563.29 544.4,563.02 544.5,562.65 544.6,562.15 544.9,560.26 545.0,560.00 545.1,560.26 545.4,562.16 545.5,562.66 545.6,563.04 545.7,563.32 545.9,563.63 546.3,563.82 548.6,563.94 562.8,563.91 565.3,563.70 566.8,563.33 568.0,562.76 568.8,562.16 569.1,561.81 569.3,561.42 569.5,560.78 569.7,559.83 569.9,558.73 570.0,558.43 570.1,558.48 570.3,559.04 570.4,559.25 570.5,559.35 570.6,559.31 570.7,559.11 570.8,558.75 570.9,558.22 571.0,557.53 571.2,555.82 571.3,555.11 571.5,554.24 571.6,553.65 571.7,552.75 571.9,550.48 572.0,550.00 572.1,550.54 572.2,551.75 572.3,553.08 572.4,554.26 572.5,555.23 572.6,555.98 572.7,556.49 572.8,556.81 572.9,556.99 573.1,557.06 573.4,556.83 573.7,556.40 573.9,555.99 574.1,555.39 574.2,554.97 574.3,554.40 574.4,553.59 574.5,552.47 574.6,551.00 574.7,549.19 574.8,547.17 574.9,545.34 575.0,544.50 575.1,545.17 575.2,546.86 575.3,548.79 575.4,550.55 575.5,552.00 575.6,553.10 575.7,553.90 575.8,554.43 575.9,554.78 576.0,555.00 576.2,555.20 576.5,555.25 577.1,555.10 577.2,554.94 577.3,554.64 577.4,554.14 577.5,553.40 577.6,552.39 577.7,551.14 577.8,549.73 577.9,548.48 578.0,548.00 578.1,548.67 578.2,550.11 578.3,551.69 578.4,553.13 578.5,554.32 578.6,555.25 578.7,555.94 578.8,556.43 578.9,556.78 579.1,557.17 579.4,557.37 579.6,557.42 579.8,557.70 580.0,558.04 580.1,558.14 580.2,558.15 580.3,558.04 580.4,557.78 580.5,557.33 580.6,556.66 580.7,555.78 580.9,553.67 581.0,553.00 581.1,552.98 581.2,553.49 581.3,554.35 581.5,556.65 581.6,557.69 581.7,558.53 581.8,559.16 581.9,559.61 582.0,559.91 582.1,560.09 582.2,560.15 582.3,560.09 582.4,559.93 582.5,559.64 582.6,559.23 582.8,558.17 582.9,557.74 583.0,557.69 583.1,558.08 583.3,559.30 583.4,559.82 583.5,560.23 583.6,560.53 583.8,560.85 584.1,560.92 584.6,560.63 585.1,560.06 585.5,559.36 585.7,558.85 585.8,558.51 585.9,558.05 586.0,557.43 586.1,556.55 586.2,555.35 586.3,553.74 586.4,551.69 586.5,549.21 586.6,546.48 586.7,543.99 586.8,542.80 586.9,543.56 587.0,545.60 587.1,547.90 587.2,549.93 587.3,551.52 587.4,552.66 587.5,553.36 587.6,553.67 587.7,553.65 587.8,553.31 587.9,552.67 588.0,551.73 588.1,550.49 588.2,548.97 588.3,547.29 588.4,545.75 588.5,545.00 588.6,545.43 588.7,546.64 588.8,548.01 588.9,549.21 589.0,550.14 589.1,550.79 589.2,551.15 589.3,551.24 589.4,551.06 589.5,550.61 589.6,549.86 589.7,548.77 589.8,547.34 589.9,545.58 590.0,543.62 590.1,541.84 590.2,541.00 590.3,541.59 590.4,543.08 590.5,544.68 590.6,545.94 590.7,546.63 590.8,546.64 590.9,545.87 591.0,544.25 591.1,541.79 591.2,538.57 591.3,534.87 591.4,531.50 591.5,530.00 591.6,531.36 591.7,534.56 591.8,538.00 591.9,540.83 592.0,542.68 592.1,543.37 592.2,542.77 592.3,540.83 592.4,537.56 592.5,533.08 592.7,522.36 592.8,519.00 592.9,518.74 593.0,520.09 593.1,520.81 593.2,519.68 593.3,516.29 593.4,510.99 593.5,505.00 593.6,498.88 593.7,490.95 593.8,479.14 593.9,462.80 594.0,443.17 594.1,424.99 594.2,417.70 594.3,427.44 594.4,448.15 594.5,470.38 594.6,489.21 594.7,503.00 594.8,511.33 594.9,514.42 595.0,512.94 595.1,508.06 595.2,502.01 595.3,498.50 595.4,499.84 595.5,503.86 595.6,507.19 595.7,508.22 595.8,506.94 595.9,504.82 596.0,505.00 596.1,509.61 596.2,516.73 596.3,523.31 596.4,527.70 596.5,529.34 596.6,528.14 596.7,524.31 596.9,512.83 597.0,510.50 597.1,513.78 597.2,520.58 597.3,527.60 597.4,533.09 597.5,536.41 597.6,537.46 597.7,536.40 597.8,533.77 597.9,530.88 598.0,530.00 598.1,532.63 598.2,537.60 598.3,542.95 598.4,547.71 598.5,551.58 598.6,554.54 598.7,556.67 598.8,558.13 598.9,559.10 599.0,559.75 599.1,560.23 599.2,560.58 599.4,561.07 599.6,561.31 599.7,561.33 599.8,561.27 599.9,561.11 600.0,560.83 600.1,560.43 600.2,559.92 600.4,558.76 600.5,558.49 600.6,558.71 600.7,559.29 600.9,560.55 601.0,561.04 601.1,561.41 601.2,561.68 601.4,561.94 601.6,561.97 601.8,561.82 602.2,561.14 602.3,561.07 602.4,561.14 602.8,561.69 603.1,561.79 603.5,561.60 603.8,561.20 604.2,560.39 604.5,560.18 604.6,560.00 604.7,559.65 604.8,559.05 604.9,558.08 605.0,556.63 605.1,554.61 605.2,551.95 605.3,548.70 605.4,545.07 605.5,541.79 605.6,540.30 605.7,541.52 605.8,544.53 605.9,547.90 606.0,550.90 606.1,553.26 606.2,554.87 606.3,555.73 606.4,555.85 606.5,555.30 606.6,554.16 606.7,552.51 606.8,550.56 606.9,548.77 607.0,548.00 607.1,548.81 607.2,550.67 607.3,552.73 607.4,554.57 607.5,556.06 607.6,557.18 607.7,557.96 607.8,558.47 607.9,558.76 608.0,558.91 608.2,558.92 608.4,558.69 608.6,558.22 608.7,557.84 608.8,557.30 608.9,556.52 609.0,555.34 609.1,553.56 609.2,550.94 609.3,547.29 609.4,542.49 609.5,536.60 609.6,530.03 609.7,524.11 609.8,521.50 609.9,523.89 610.0,529.55 610.1,535.78 610.2,541.20 610.3,545.32 610.4,548.01 610.5,549.33 610.6,549.41 610.7,548.53 610.9,545.52 611.0,545.00 611.1,546.10 611.2,548.27 611.3,550.62 611.4,552.70 611.5,554.38 611.6,555.65 611.7,556.52 611.8,557.08 611.9,557.39 612.0,557.50 612.1,557.48 612.2,557.33 612.3,557.03 612.4,556.53 612.5,555.78 612.6,554.75 612.7,553.45 612.8,551.97 612.9,550.62 613.0,550.00 613.1,550.48 613.3,552.94 613.4,553.94 613.5,554.51 613.6,554.53 613.7,553.93 613.8,552.62 613.9,550.52 614.0,547.59 614.1,543.88 614.2,539.68 614.3,535.90 614.4,534.30 614.5,536.02 614.6,539.93 614.7,544.28 614.8,548.16 614.9,551.32 615.0,553.73 615.1,555.46 615.2,556.66 615.3,557.49 615.4,558.06 615.5,558.45 615.7,558.92 616.0,559.25 616.3,559.25 616.7,558.80 616.8,558.77 616.9,558.88 617.3,559.61 617.6,559.83 617.9,559.72 618.2,559.41 618.3,559.39 618.5,559.59 618.8,559.96 619.1,560.09 619.7,559.97 620.2,560.15 620.6,560.05 620.9,559.94 621.3,559.95 621.6,559.67 621.8,559.39 621.9,559.34 622.1,559.54 622.4,559.87 622.6,559.90 622.8,559.70 623.0,559.27 623.2,558.68 623.3,558.48 623.4,558.50 623.6,559.04 623.8,559.58 624.0,559.92 624.3,560.13 624.8,560.10 625.2,559.97 625.7,560.16 626.0,560.07 626.1,559.94 626.2,559.73 626.3,559.40 626.4,558.94 626.5,558.33 626.6,557.58 626.8,555.95 626.9,555.60 627.0,555.89 627.1,556.63 627.3,558.29 627.4,558.97 627.5,559.51 627.6,559.91 627.7,560.19 627.9,560.51 628.2,560.68 628.6,560.67 629.0,560.59 629.4,560.71 629.7,560.60 630.3,559.88 630.4,559.69 630.5,559.40 630.6,558.93 630.7,558.19 630.8,557.01 630.9,555.23 631.0,552.61 631.1,549.01 631.2,544.32 631.3,538.62 631.4,532.29 631.5,526.59 631.6,524.00 631.7,526.11 631.8,531.27 631.9,536.95 632.0,541.80 632.1,545.31 632.2,547.24 632.3,547.31 632.4,545.21 632.5,540.50 632.6,532.66 632.7,521.23 632.8,505.98 632.9,487.14 633.0,466.08 633.1,447.16 633.2,439.00 633.3,447.16 633.4,466.05 633.5,487.02 633.6,505.66 633.7,520.54 633.8,531.37 633.9,538.35 634.0,541.98 634.1,542.88 634.2,541.74 634.3,539.32 634.4,536.79 634.5,536.00 634.6,538.13 634.7,542.20 634.8,546.60 634.9,550.52 635.0,553.74 635.1,556.23 635.2,558.05 635.3,559.33 635.4,560.21 635.5,560.81 635.6,561.23 635.8,561.77 636.1,562.26 636.6,562.74 637.3,563.07 637.8,563.08 638.0,562.90 638.1,562.71 638.2,562.41 638.3,561.99 638.4,561.44 638.5,560.75 638.6,559.98 638.7,559.29 638.8,559.00 638.9,559.32 639.0,560.04 639.1,560.84 639.2,561.56 639.3,562.15 639.4,562.61 639.5,562.94 639.7,563.32 640.0,563.53 641.2,563.74 646.2,563.89 656.3,563.84 659.1,563.65 660.2,563.39 660.8,563.04 661.1,562.71 661.3,562.34 661.4,562.05 661.5,561.63 661.6,560.99 661.7,560.00 661.8,558.50 661.9,556.33 662.0,553.32 662.1,549.39 662.2,544.58 662.3,539.21 662.4,534.32 662.5,532.00 662.6,533.57 662.7,537.57 662.8,541.75 662.9,544.93 663.0,546.67 663.1,546.87 663.2,545.64 663.3,543.35 663.4,540.92 663.5,540.00 663.6,541.66 663.7,545.00 663.8,548.58 663.9,551.62 664.0,553.83 664.1,555.09 664.2,555.31 664.3,554.45 664.4,552.49 664.5,549.48 664.6,545.52 664.7,540.98 664.8,536.84 664.9,535.00 665.0,536.66 665.1,540.57 665.2,544.75 665.3,548.18 665.4,550.46 665.5,551.47 665.6,551.25 665.7,549.94 665.9,545.82 666.0,545.00 666.1,546.25 666.2,548.87 666.3,551.70 666.4,554.15 666.5,556.01 666.6,557.20 666.7,557.67 666.8,557.38 666.9,556.31 667.0,554.41 667.1,551.69 667.2,548.22 667.3,544.24 667.4,540.52 667.5,538.60 667.6,539.42 667.8,544.33 667.9,545.91 668.0,546.42 668.1,545.96 668.2,545.11 668.3,545.00 668.4,546.38 668.5,548.64 668.6,550.72 668.7,552.04 668.8,552.33 668.9,551.48 669.0,549.46 669.1,546.39 669.2,542.60 669.3,539.02 669.4,537.40 669.5,538.84 669.6,542.19 669.7,545.71 669.8,548.46 669.9,550.16 670.0,550.79 670.1,550.55 670.2,549.97 670.3,550.00 670.4,551.29 670.5,553.41 670.6,555.63 670.7,557.59 670.8,559.18 670.9,560.40 671.0,561.29 671.1,561.91 671.2,562.33 671.3,562.62 671.5,562.95 671.9,563.27 672.8,563.57 675.0,563.78 680.2,563.80 682.6,563.63 683.6,563.36 684.1,563.02 684.4,562.59 684.5,562.34 684.6,561.97 684.7,561.40 684.8,560.52 684.9,559.18 685.0,557.23 685.1,554.53 685.2,551.01 685.3,546.69 685.4,541.88 685.5,537.55 685.6,535.60 685.7,537.27 685.8,541.29 685.9,545.67 686.0,549.37 686.1,552.01 686.2,553.43 686.3,553.64 686.4,552.71 686.5,550.83 686.6,548.34 686.7,545.96 686.8,545.00 686.9,546.30 687.0,549.09 687.1,552.17 687.2,554.91 687.3,557.14 687.4,558.83 687.5,560.04 687.6,560.84 687.7,561.34 687.8,561.62 687.9,561.76 688.0,561.80 688.1,561.75 688.2,561.62 688.3,561.37 688.4,560.95 688.5,560.26 688.6,559.21 688.7,557.66 688.8,555.51 688.9,552.69 689.0,549.23 689.1,545.34 689.2,541.78 689.3,540.00 689.4,540.91 689.6,545.85 689.7,547.24 689.8,547.12 689.9,545.26 690.0,541.61 690.1,536.33 690.2,529.96 690.3,524.03 690.4,521.40 690.5,523.91 690.6,529.71 690.7,535.90 690.8,540.93 690.9,544.21 691.0,545.57 691.1,545.04 691.2,542.86 691.4,536.26 691.5,535.00 691.6,537.09 691.7,541.39 691.8,546.10 691.9,550.29 692.0,553.69 692.1,556.25 692.2,558.05 692.3,559.18 692.4,559.76 692.5,559.87 692.6,559.54 692.7,558.78 692.8,557.55 692.9,555.84 693.0,553.68 693.1,551.23 693.2,549.01 693.3,548.00 693.4,548.84 693.5,550.84 693.6,552.94 693.7,554.54 693.8,555.37 693.9,555.29 694.0,554.24 694.1,552.22 694.2,549.35 694.3,545.93 694.4,542.80 694.5,541.50 694.6,543.04 694.7,546.46 694.8,550.25 694.9,553.65 695.0,556.43 695.1,558.56 695.2,560.10 695.3,561.15 695.4,561.85 695.5,562.30 695.6,562.60 695.8,562.95 696.2,563.29 697.0,563.59 699.0,563.81 703.1,563.86 703.9,563.76 704.2,563.55 704.4,563.15 704.5,562.81 704.6,562.38 704.9,560.73 705.0,560.50 705.1,560.73 705.4,562.38 705.5,562.81 705.6,563.15 705.8,563.55 706.1,563.76 707.2,563.84 707.9,563.75 708.2,563.50 708.3,563.31 708.4,563.04 708.5,562.66 708.6,562.16 708.9,560.26 709.0,560.00 709.1,560.26 709.4,562.17 709.5,562.66 709.6,563.05 709.7,563.32 709.9,563.63 710.3,563.81 711.6,563.85 712.1,563.71 712.3,563.48 712.4,563.28 712.5,562.99 712.6,562.62 712.9,561.20 713.0,561.00 713.1,561.20 713.4,562.63 713.5,563.00 713.6,563.29 713.8,563.64 714.1,563.83 715.7,563.95 747.8,563.95 748.9,563.84 749.2,563.65 749.4,563.30 749.5,563.02 749.6,562.64 749.9,561.20 750.0,561.00 750.1,561.20 750.4,562.63 750.5,563.01 750.6,563.30 750.8,563.64 751.1,563.83 752.3,563.88 752.9,563.78 753.2,563.53 753.3,563.35 753.4,563.07 753.5,562.69 753.6,562.18 753.9,560.27 754.0,560.00 754.1,560.27 754.4,562.18 754.5,562.69 754.6,563.07 754.7,563.35 754.9,563.66 755.3,563.84 756.6,563.88 757.1,563.73 757.3,563.50 757.4,563.30 757.5,563.01 757.6,562.63 757.9,561.20 758.0,561.00 758.1,561.20 758.4,562.64 758.5,563.02 758.6,563.31 758.8,563.66 759.1,563.85 760.7,563.97 800.8,564.00 840.9,564.00 881.0,564.00 921.1,564.00 961.2,564.00 1001.3,564.00 1041.4,564.00 1081.5,564.00 1121.6,564.00 1161.7,564.00 1201.8,564.00 1241.9,564.00 1282.0,564.00 1322.1,564.00 1345.6,564.00" fill="none" stroke="#3a62cc" stroke-width="1.2" stroke-linejoin="round"/>
<path d="M79.6,757.20 119.7,757.20 159.8,757.20 196.5,757.13 199.8,756.96 201.0,756.70 201.6,756.36 201.9,756.01 202.1,755.58 202.2,755.20 202.3,754.62 202.4,753.73 202.5,752.39 202.6,750.47 202.7,747.87 202.8,744.58 202.9,740.75 203.0,737.06 203.1,735.00 203.2,735.52 203.3,737.33 203.4,738.62 203.5,738.43 203.6,736.39 203.7,732.43 203.8,726.86 203.9,720.89 204.0,717.20 204.1,717.62 204.2,720.22 204.3,722.33 204.4,722.97 204.5,722.82 204.6,724.00 204.7,728.15 204.8,734.01 204.9,739.69 205.0,744.42 205.1,748.07 205.2,750.74 205.3,752.59 205.4,753.81 205.5,754.60 205.6,755.11 205.7,755.46 205.9,755.90 206.2,756.27 206.8,756.66 207.9,756.93 210.8,757.11 233.1,757.20 273.2,757.20 300.0,757.22 303.0,759.02 314.7,759.15 317.8,759.37 319.2,759.68 320.0,760.06 320.6,760.59 321.0,761.17 321.3,761.82 321.5,762.42 321.7,763.20 321.8,763.70 321.9,764.30 322.0,765.09 322.1,766.23 322.2,768.03 322.3,771.01 322.4,775.88 322.5,783.36 322.6,793.76 322.7,806.57 322.8,820.10 322.9,831.26 323.0,835.80 323.1,831.26 323.2,820.10 323.3,806.57 323.4,793.76 323.5,783.36 323.6,775.88 323.7,771.01 323.8,768.03 323.9,766.23 324.0,765.09 324.1,764.24 324.2,763.58 324.4,762.54 324.6,761.74 324.9,760.82 325.3,759.93 325.8,759.13 326.6,758.20 327.0,757.82 328.7,757.51 332.7,757.30 357.8,757.09 360.4,756.89 361.5,756.59 362.1,756.19 362.4,755.82 362.6,755.43 362.7,755.16 362.8,754.81 362.9,754.34 363.0,753.63 363.1,752.53 363.2,750.75 363.3,747.90 363.4,743.52 363.5,737.15 363.6,728.49 363.7,717.52 363.8,704.91 363.9,693.20 364.0,688.01 364.1,693.19 364.2,704.88 364.3,717.47 364.4,728.41 364.5,737.06 364.6,743.41 364.7,747.77 364.8,750.60 364.9,752.35 365.0,753.43 365.1,754.12 365.2,754.57 365.3,754.88 365.5,755.30 365.8,755.62 366.2,755.73 366.5,755.61 366.8,755.27 367.0,754.83 367.1,754.50 367.2,754.04 367.3,753.33 367.4,752.22 367.5,750.40 367.6,747.49 367.7,742.99 367.8,736.43 367.9,727.51 368.0,716.21 368.1,703.22 368.2,691.15 368.3,685.81 368.4,691.17 368.5,703.25 368.6,716.26 368.7,727.58 368.8,736.52 368.9,743.09 369.0,747.61 369.1,750.55 369.2,752.38 369.3,753.52 369.4,754.25 369.5,754.74 369.6,755.10 369.8,755.59 370.1,756.05 370.6,756.47 371.5,756.80 373.5,757.03 380.9,757.17 421.0,757.20 461.1,757.20 501.2,757.19 541.3,757.18 563.0,757.09 566.2,756.91 567.3,756.66 567.9,756.32 568.2,755.99 568.4,755.60 568.5,755.28 568.6,754.80 568.7,754.05 568.8,752.87 568.9,751.08 569.0,748.51 569.1,745.02 569.2,740.59 569.3,735.46 569.4,730.57 569.5,728.00 569.6,729.11 569.7,732.22 569.8,734.90 569.9,735.94 570.0,734.93 570.1,731.88 570.2,727.22 570.3,722.43 570.4,720.50 570.5,723.53 570.6,729.69 570.7,736.21 570.8,741.85 570.9,746.30 571.0,749.57 571.1,751.83 571.2,753.31 571.3,754.24 571.4,754.82 571.5,755.19 571.7,755.63 572.0,755.97 572.5,756.18 573.1,756.13 573.6,755.83 573.9,755.43 574.1,754.95 574.2,754.55 574.3,753.97 574.4,753.05 574.5,751.63 574.6,749.48 574.7,746.38 574.8,742.15 574.9,736.75 575.1,724.02 575.2,720.00 575.3,719.82 575.4,721.45 575.5,722.16 575.6,720.80 575.7,717.42 575.8,713.41 575.9,712.00 576.0,715.48 576.1,721.71 576.2,727.50 576.3,731.34 576.4,732.82 576.5,731.98 576.6,729.29 576.7,726.09 576.8,725.00 576.9,727.86 577.0,733.22 577.1,738.81 577.2,743.64 577.3,747.45 577.4,750.26 577.5,752.22 577.6,753.52 577.7,754.35 577.8,754.89 577.9,755.25 578.1,755.69 578.4,756.08 578.9,756.43 579.9,756.72 581.5,756.80 582.9,756.61 583.9,756.24 584.5,755.81 584.9,755.32 585.1,754.88 585.2,754.51 585.3,753.97 585.4,753.15 585.5,751.91 585.6,750.15 585.7,747.78 585.8,744.80 585.9,741.38 586.0,738.19 586.1,736.70 586.2,737.93 586.3,740.86 586.4,744.01 586.5,746.67 586.6,748.66 586.7,749.92 586.8,750.47 586.9,750.34 587.0,749.56 587.1,748.20 587.2,746.32 587.3,744.09 587.4,741.97 587.5,741.00 587.6,741.86 587.7,743.88 587.8,746.04 587.9,747.89 588.0,749.32 588.1,750.33 588.2,750.96 588.3,751.28 588.4,751.37 588.5,751.27 588.6,750.97 588.7,750.41 588.8,749.49 588.9,748.07 589.0,746.00 589.1,743.20 589.2,739.65 589.3,735.57 589.4,731.77 589.5,730.00 589.6,731.49 589.7,735.00 589.8,738.73 589.9,741.83 590.0,744.00 590.1,745.12 590.2,745.10 590.3,743.84 590.4,741.27 590.5,737.37 590.6,732.22 590.7,726.18 590.8,720.51 590.9,717.90 591.0,720.21 591.1,725.48 591.2,730.89 591.3,735.04 591.4,737.41 591.5,737.80 591.6,736.22 591.7,732.91 591.9,723.87 592.0,722.00 592.1,724.50 592.2,729.74 592.3,735.31 592.4,740.10 592.5,743.82 592.6,746.42 592.7,747.97 592.8,748.55 592.9,748.24 593.0,747.09 593.1,745.14 593.2,742.45 593.3,739.25 593.4,736.25 593.5,735.00 593.6,736.55 593.7,739.86 593.8,743.39 593.9,746.45 594.0,748.85 594.1,750.58 594.2,751.69 594.3,752.25 594.4,752.34 594.5,751.98 594.6,751.17 594.7,749.90 594.8,748.19 594.9,746.18 595.0,744.29 595.1,743.50 595.2,744.45 595.3,746.49 595.4,748.67 595.5,750.52 595.6,751.94 595.7,752.88 595.8,753.36 595.9,753.39 596.0,753.00 596.1,752.23 596.2,751.12 596.4,748.52 596.5,748.00 596.6,748.67 596.7,750.08 596.8,751.59 596.9,752.90 597.0,753.94 597.1,754.71 597.2,755.25 597.3,755.60 597.4,755.83 597.6,756.07 598.1,756.28 599.2,756.32 600.8,756.01 602.2,755.47 603.0,754.96 603.4,754.51 603.6,754.07 603.7,753.69 603.8,753.12 603.9,752.28 604.0,751.09 604.1,749.49 604.2,747.49 604.3,745.18 604.4,743.03 604.5,742.00 604.6,742.77 604.7,744.65 604.8,746.65 604.9,748.30 605.0,749.43 605.1,749.96 605.2,749.84 605.3,749.00 605.4,747.41 605.5,745.04 605.6,741.93 605.7,738.31 605.8,734.90 605.9,733.30 606.0,734.60 606.1,737.67 606.2,740.85 606.3,743.35 606.4,744.89 606.5,745.38 606.6,744.85 606.7,743.41 606.8,741.32 606.9,739.14 607.0,738.00 607.1,738.61 607.2,740.15 607.3,741.43 607.4,741.85 607.5,741.21 607.6,739.51 607.8,734.38 607.9,733.30 608.0,734.83 608.1,738.00 608.2,741.35 608.3,744.23 608.4,746.46 608.5,748.03 608.6,748.99 608.7,749.44 608.8,749.41 608.9,748.94 609.0,748.04 609.1,746.68 609.2,744.90 609.3,742.83 609.4,740.88 609.5,740.00 609.6,740.83 609.7,742.73 609.8,744.76 609.9,746.49 610.0,747.78 610.1,748.60 610.2,748.96 610.3,748.85 610.4,748.25 610.5,747.14 610.6,745.50 610.7,743.36 610.8,740.87 610.9,738.54 611.0,737.50 611.1,738.52 611.2,740.83 611.3,743.31 611.4,745.43 611.5,747.07 611.6,748.19 611.7,748.82 611.8,749.01 611.9,748.78 612.0,748.15 612.1,747.14 612.2,745.78 612.3,744.18 612.4,742.67 612.5,742.00 612.6,742.66 612.7,744.16 612.8,745.75 612.9,747.10 613.0,748.10 613.1,748.72 613.2,748.95 613.3,748.78 613.4,748.18 613.5,747.12 613.6,745.58 613.7,743.57 613.8,741.23 613.9,739.02 614.0,738.00 614.1,738.86 614.2,740.88 614.3,742.98 614.4,744.64 614.5,745.66 614.6,745.89 614.7,745.25 614.8,743.67 614.9,741.15 615.0,737.73 615.1,733.69 615.2,729.84 615.3,728.00 615.4,729.36 615.6,735.76 615.7,737.85 615.8,738.41 615.9,737.22 616.0,734.21 616.1,729.52 616.2,723.64 616.3,717.96 616.4,715.40 616.5,717.93 616.6,723.55 616.7,729.36 616.8,733.92 616.9,736.74 617.0,737.65 617.1,736.70 617.2,734.11 617.4,726.60 617.5,725.00 617.6,727.07 617.7,731.44 617.8,736.08 617.9,740.05 618.0,743.11 618.1,745.26 618.2,746.56 618.3,747.11 618.4,746.97 618.5,746.06 618.6,744.22 618.7,741.14 618.8,736.55 618.9,730.21 619.0,722.14 619.1,712.81 619.2,704.08 619.3,700.00 619.4,703.35 619.5,711.19 619.6,719.22 619.7,725.40 619.8,729.04 619.9,730.02 620.0,728.56 620.1,725.27 620.2,721.54 620.3,720.00 620.4,722.44 620.5,727.32 620.6,732.29 620.7,736.19 620.8,738.60 620.9,739.29 621.0,738.21 621.1,735.39 621.2,731.03 621.3,725.59 621.4,720.33 621.5,717.90 621.6,720.05 621.8,729.79 621.9,733.34 622.0,735.08 622.1,734.93 622.2,733.02 622.3,729.79 622.4,726.39 622.5,725.00 622.6,727.14 622.7,731.51 622.8,736.12 622.9,740.08 623.0,743.17 623.1,745.39 623.2,746.83 623.3,747.63 623.4,747.92 623.5,747.74 623.6,747.05 623.7,745.69 623.8,743.46 623.9,740.13 624.0,735.54 624.1,729.69 624.2,722.93 624.3,716.61 624.4,713.70 624.5,716.23 624.6,722.05 624.7,728.08 624.8,732.79 624.9,735.63 625.0,736.43 625.1,735.21 625.2,732.23 625.4,723.77 625.5,722.00 625.6,724.38 625.7,729.35 625.8,734.64 625.9,739.18 626.0,742.71 626.1,745.17 626.2,746.64 626.3,747.21 626.4,746.95 626.5,745.92 626.6,744.16 626.7,741.74 626.8,738.85 626.9,736.15 627.0,735.00 627.1,736.36 627.2,739.30 627.3,742.42 627.4,745.12 627.5,747.22 627.6,748.71 627.7,749.63 627.8,750.02 627.9,749.91 628.0,749.26 628.1,747.95 628.2,745.88 628.3,742.96 628.4,739.19 628.5,734.83 628.6,730.76 628.7,729.00 628.8,730.91 628.9,735.11 629.0,739.60 629.1,743.44 629.2,746.38 629.3,748.35 629.4,749.40 629.5,749.64 629.6,749.19 629.7,748.19 629.9,745.50 630.0,745.00 630.1,745.86 630.2,747.58 630.3,749.40 630.4,750.99 630.5,752.26 630.6,753.22 630.7,753.90 630.8,754.37 630.9,754.69 631.1,755.09 631.6,755.61 632.5,756.15 633.9,756.63 635.3,756.83 636.0,756.62 636.5,756.78 636.7,756.69 637.0,756.26 637.2,755.95 637.3,755.98 637.7,756.67 638.0,756.90 638.4,756.89 638.8,756.72 639.3,756.84 639.5,756.74 639.8,756.30 640.0,756.00 640.1,756.01 640.4,756.42 640.6,756.68 640.8,756.74 641.0,756.60 641.3,756.11 641.4,756.02 641.5,756.08 641.8,756.56 642.0,756.71 642.2,756.66 642.5,756.43 642.7,756.56 643.0,756.85 643.3,756.94 643.6,756.82 644.0,756.40 644.2,756.46 644.4,756.59 644.6,756.54 645.0,756.00 645.4,756.07 645.6,756.00 645.7,756.09 646.1,756.76 646.4,756.98 646.9,757.00 647.3,756.77 647.5,756.59 647.7,756.61 648.1,756.93 648.4,756.98 648.7,756.83 649.0,756.38 649.2,756.07 649.3,756.10 649.7,756.75 650.0,756.92 650.6,756.79 651.2,757.04 651.8,757.02 652.2,756.78 652.5,756.54 653.0,756.84 653.2,756.80 653.4,756.57 653.7,755.95 653.8,755.83 653.9,755.90 654.2,756.47 654.4,756.65 654.6,756.58 655.0,756.00 655.2,756.11 655.8,756.85 656.2,757.01 656.7,756.97 657.2,756.77 657.8,757.00 658.3,756.94 658.7,756.58 658.9,756.45 659.3,756.71 659.5,756.67 659.9,756.14 660.0,756.12 660.2,756.39 660.5,756.81 660.9,756.98 661.4,756.92 661.9,756.65 662.6,756.94 663.1,756.82 663.5,756.55 663.8,756.67 664.2,756.82 664.6,756.74 664.9,756.49 665.2,756.08 665.3,756.03 665.8,756.42 666.2,756.41 666.8,756.06 667.2,755.63 667.4,755.27 667.5,755.00 667.6,754.61 667.7,754.04 667.8,753.17 667.9,751.87 668.0,750.02 668.1,747.54 668.2,744.38 668.3,740.71 668.4,737.12 668.5,735.00 668.6,735.23 668.7,736.62 668.8,737.50 668.9,737.09 669.0,735.21 669.1,732.08 669.2,728.72 669.3,727.30 669.4,729.32 669.6,737.40 669.7,740.36 669.8,741.93 669.9,742.06 670.0,740.85 670.1,738.62 670.2,736.17 670.3,735.00 670.4,736.10 670.5,738.48 670.6,740.66 670.7,741.84 670.8,741.71 670.9,740.18 671.0,737.32 671.2,729.66 671.3,728.00 671.4,729.92 671.5,734.07 671.6,738.44 671.7,742.07 671.8,744.68 671.9,746.17 672.0,746.57 672.1,746.00 672.2,744.62 672.4,740.80 672.5,740.00 672.6,741.06 672.7,743.28 672.8,745.64 672.9,747.68 673.0,749.29 673.1,750.46 673.2,751.26 673.3,751.75 673.4,752.01 673.5,752.11 673.6,752.06 673.7,751.82 673.8,751.36 673.9,750.58 674.0,749.40 674.1,747.76 674.2,745.67 674.3,743.25 674.4,740.99 674.5,740.00 674.6,741.02 674.7,743.29 674.8,745.72 674.9,747.80 675.0,749.39 675.1,750.46 675.2,751.01 675.3,751.05 675.4,750.54 675.5,749.41 675.6,747.57 675.7,744.96 675.8,741.58 675.9,737.66 676.0,734.00 676.1,732.40 676.2,734.07 676.3,737.79 676.4,741.76 676.5,745.15 676.6,747.72 676.7,749.42 676.8,750.25 676.9,750.26 677.0,749.50 677.1,748.02 677.2,745.92 677.3,743.40 677.4,741.01 677.5,740.00 677.6,741.19 677.7,743.77 677.8,746.51 677.9,748.89 678.0,750.76 678.1,752.11 678.2,753.01 678.3,753.55 678.4,753.82 678.5,753.87 678.6,753.71 678.7,753.29 678.8,752.53 678.9,751.30 679.0,749.48 679.1,746.97 679.2,743.77 679.3,740.07 679.4,736.61 679.5,735.00 679.6,736.34 679.7,739.50 679.8,742.80 679.9,745.42 680.0,747.05 680.1,747.48 680.2,746.59 680.3,744.28 680.4,740.54 680.5,735.47 680.6,729.48 680.7,723.84 680.8,721.30 680.9,723.73 681.0,729.24 681.1,735.06 681.2,739.89 681.3,743.30 681.4,745.16 681.5,745.50 681.6,744.45 681.7,742.25 681.9,736.30 682.0,735.00 682.1,736.45 682.2,739.61 682.3,742.95 682.4,745.77 682.5,747.84 682.6,749.10 682.7,749.53 682.8,749.09 682.9,747.71 683.0,745.31 683.1,741.85 683.2,737.37 683.3,732.16 683.4,727.28 683.5,725.00 683.6,726.92 683.7,731.43 683.8,736.25 683.9,740.29 684.0,743.24 684.1,744.97 684.2,745.43 684.3,744.48 684.4,741.86 684.5,737.19 684.6,730.08 684.7,720.22 684.8,707.66 684.9,693.17 685.0,679.67 685.1,673.60 685.2,679.40 685.3,692.61 685.4,706.78 685.5,718.94 685.6,728.24 685.7,734.56 685.8,738.04 685.9,738.95 686.0,737.62 686.1,734.31 686.2,729.36 686.3,723.28 686.4,717.51 686.5,715.00 686.6,717.77 686.7,723.83 686.8,730.30 686.9,735.85 687.0,740.11 687.1,743.05 687.2,744.72 687.3,745.25 687.4,744.72 687.5,743.19 687.6,740.71 687.7,737.36 687.8,733.41 687.9,729.69 688.0,728.00 688.1,729.59 688.2,733.21 688.3,737.08 688.4,740.37 688.5,742.84 688.6,744.45 688.7,745.22 688.8,745.15 688.9,744.14 689.0,741.97 689.1,738.32 689.2,732.85 689.3,725.32 689.4,715.74 689.5,704.70 689.6,694.41 689.7,689.80 689.8,694.24 689.9,704.33 690.0,715.12 690.1,724.30 690.2,731.20 690.3,735.66 690.4,737.77 690.5,737.74 690.6,735.87 690.7,732.49 690.8,728.10 690.9,723.84 691.0,722.00 691.1,724.11 691.2,728.62 691.3,733.28 691.4,737.01 691.5,739.48 691.6,740.65 691.7,740.63 691.8,739.71 691.9,738.48 692.0,738.00 692.1,738.98 692.2,740.81 692.3,742.51 692.4,743.56 692.5,743.70 692.6,742.81 692.7,740.84 692.8,737.85 692.9,734.14 693.0,730.57 693.1,729.00 693.2,730.67 693.3,734.30 693.4,738.05 693.5,741.00 693.6,742.83 693.7,743.44 693.8,742.85 693.9,741.20 694.0,738.77 694.1,736.26 694.2,735.00 694.3,735.86 694.4,737.84 694.5,739.48 694.6,740.06 694.7,739.33 694.8,737.27 695.0,731.05 695.1,729.80 695.2,731.82 695.3,735.89 695.4,740.16 695.5,743.80 695.6,746.56 695.7,748.38 695.8,749.27 695.9,749.27 696.0,748.43 696.1,746.81 696.2,744.50 696.3,741.71 696.4,739.09 696.5,738.00 696.6,739.38 696.7,742.31 696.8,745.44 696.9,748.17 697.0,750.33 697.1,751.94 697.2,753.06 697.3,753.81 697.4,754.29 697.5,754.61 697.7,754.98 698.1,755.34 698.7,755.56 699.4,755.51 699.8,755.31 700.0,755.08 700.1,754.89 700.2,754.59 700.3,754.14 700.4,753.46 700.5,752.48 700.6,751.17 700.7,749.52 700.8,747.62 700.9,745.85 701.0,745.00 701.1,745.64 701.2,747.21 701.3,748.88 701.4,750.27 701.5,751.28 701.6,751.85 701.7,751.96 701.8,751.58 701.9,750.67 702.0,749.16 702.1,747.02 702.2,744.28 702.3,741.10 702.4,738.12 702.5,736.70 702.6,737.79 702.7,740.42 702.8,743.20 702.9,745.44 703.0,746.88 703.1,747.42 703.2,746.97 703.3,745.50 703.4,743.02 703.5,739.63 703.6,735.60 703.7,731.79 703.8,730.00 703.9,731.48 704.0,734.99 704.1,738.73 704.2,741.87 704.3,744.15 704.4,745.50 704.5,745.87 704.6,745.16 704.7,743.22 704.8,739.75 704.9,734.46 705.0,727.15 705.1,717.85 705.2,707.10 705.3,697.05 705.4,692.40 705.5,696.35 705.6,705.55 705.7,715.15 705.8,722.80 705.9,727.69 706.0,729.59 706.1,728.60 706.2,725.09 706.3,719.79 706.4,714.37 706.5,712.00 706.6,714.82 706.7,720.81 706.8,726.98 706.9,731.86 707.0,734.98 707.1,736.18 707.2,735.51 707.3,733.23 707.4,729.79 707.5,726.27 707.6,724.70 707.7,726.46 707.9,734.06 708.0,736.92 708.1,738.41 708.2,738.26 708.3,736.35 708.4,732.66 708.5,727.35 708.6,720.91 708.7,714.77 708.8,712.00 708.9,714.67 709.0,720.68 709.1,726.98 709.2,732.06 709.3,735.35 709.4,736.55 709.5,735.44 709.6,731.91 709.7,725.95 709.8,717.78 709.9,708.07 710.0,698.93 710.1,694.90 710.2,699.09 710.3,708.38 710.4,718.22 710.5,726.48 710.6,732.49 710.7,736.08 710.8,737.33 710.9,736.50 711.0,733.95 711.2,726.52 711.3,725.00 711.4,727.16 711.5,731.60 711.6,736.22 711.7,740.03 711.8,742.70 711.9,744.12 712.0,744.28 712.1,743.29 712.2,741.30 712.4,736.06 712.5,735.00 712.6,736.49 712.7,739.57 712.8,742.83 712.9,745.63 713.0,747.79 713.1,749.29 713.2,750.13 713.3,750.35 713.4,749.93 713.5,748.80 713.6,746.89 713.7,744.12 713.8,740.52 713.9,736.32 714.0,732.41 714.1,730.70 714.2,732.51 714.3,736.49 714.4,740.70 714.5,744.21 714.6,746.73 714.7,748.17 714.8,748.55 714.9,747.97 715.0,746.58 715.2,742.75 715.3,742.00 715.4,743.16 715.5,745.51 715.6,748.01 715.7,750.19 715.8,751.92 715.9,753.21 716.0,754.12 716.1,754.73 716.2,755.13 716.4,755.59 716.8,756.04 717.6,756.47 719.0,756.81 721.7,757.03 733.7,757.12 743.1,757.01 745.8,756.78 746.9,756.48 747.5,756.12 747.9,755.65 748.1,755.25 748.2,754.96 748.3,754.55 748.4,753.93 748.5,752.97 748.6,751.47 748.7,749.21 748.8,745.95 748.9,741.54 749.0,735.95 749.1,729.47 749.2,723.28 749.3,720.00 749.4,721.33 749.5,725.12 749.6,728.35 749.7,729.47 749.8,727.96 749.9,723.82 750.0,717.62 750.1,711.25 750.2,708.60 750.3,712.37 750.4,720.16 750.5,728.34 750.6,735.24 750.7,740.36 750.8,743.58 750.9,744.94 751.0,744.58 751.1,742.72 751.2,739.59 751.3,735.60 751.4,731.74 751.5,730.00 751.6,731.72 751.7,735.54 751.8,739.46 751.9,742.48 752.0,744.20 752.1,744.42 752.2,743.05 752.3,740.09 752.4,735.69 752.5,730.24 752.6,724.88 752.7,722.00 752.8,723.14 752.9,726.36 753.0,728.87 753.1,729.24 753.2,726.97 753.3,722.06 753.5,708.07 753.6,705.10 753.7,709.04 753.8,717.27 753.9,725.85 754.0,732.93 754.1,737.90 754.2,740.59 754.3,741.01 754.4,739.35 754.5,735.95 754.6,731.37 754.7,726.88 754.8,725.00 754.9,727.45 755.0,732.61 755.1,738.11 755.2,742.86 755.3,746.58 755.4,749.27 755.5,751.03 755.6,752.02 755.7,752.38 755.8,752.17 755.9,751.39 756.0,750.00 756.1,747.96 756.2,745.31 756.3,742.20 756.4,739.29 756.5,738.00 756.6,739.29 756.7,742.20 756.8,745.30 756.9,747.94 757.0,749.96 757.1,751.31 757.2,752.02 757.3,752.10 757.4,751.52 757.5,750.14 757.6,747.76 757.7,744.15 757.8,739.16 757.9,732.80 758.0,725.45 758.1,718.57 758.2,715.40 758.3,718.15 758.4,724.48 758.5,731.03 758.6,736.18 758.7,739.42 758.8,740.66 758.9,740.08 759.0,738.14 759.1,735.83 759.2,735.00 759.3,736.91 759.4,740.56 759.5,744.39 759.6,747.71 759.7,750.33 759.8,752.27 759.9,753.62 760.0,754.51 760.1,755.09 760.2,755.47 760.4,755.90 760.8,756.33 761.5,756.66 763.0,756.92 767.5,757.10 802.5,757.19 842.6,757.20 882.7,757.20 922.8,757.20 962.9,757.20 1003.0,757.20 1043.1,757.20 1083.2,757.20 1123.3,757.20 1163.4,757.20 1203.5,757.20 1243.6,757.20 1283.7,757.20 1319.2,757.15 1320.0,757.05 1320.3,756.83 1320.5,756.41 1320.6,756.07 1320.9,754.70 1321.0,754.50 1321.1,754.70 1321.4,756.07 1321.5,756.40 1321.7,756.81 1322.0,757.03 1322.9,757.07 1323.4,756.93 1323.6,756.69 1323.7,756.45 1323.8,756.11 1323.9,755.65 1324.0,755.07 1324.2,753.78 1324.3,753.50 1324.4,753.78 1324.6,755.07 1324.7,755.66 1324.8,756.12 1324.9,756.45 1325.0,756.69 1325.2,756.93 1325.7,757.08 1326.6,757.05 1326.9,756.88 1327.1,756.54 1327.3,755.93 1327.5,755.16 1327.6,755.00 1327.7,755.16 1328.0,756.28 1328.2,756.76 1328.4,756.99 1328.9,757.13 1337.3,757.20 1345.6,757.20" fill="none" stroke="#30b830" stroke-width="1.2" stroke-linejoin="round"/>
<path d="M79.6,949.80 119.7,949.80 138.9,949.75 139.3,949.64 139.6,949.30 139.9,948.69 140.0,948.60 140.1,948.69 140.4,949.30 140.7,949.64 141.3,949.77 163.9,949.76 164.3,949.67 164.6,949.39 164.9,948.88 165.0,948.80 165.1,948.88 165.5,949.51 165.8,949.71 167.5,949.79 203.8,949.76 204.3,949.64 204.6,949.30 204.9,948.69 205.0,948.60 205.1,948.69 205.4,949.30 205.7,949.64 206.3,949.77 213.9,949.76 214.3,949.65 214.6,949.34 214.9,948.78 215.0,948.70 215.1,948.78 215.5,949.48 215.8,949.70 217.2,949.79 257.3,949.80 297.4,949.81 305.0,949.83 308.0,951.54 315.9,951.69 318.4,951.94 319.6,952.28 320.3,952.68 320.8,953.19 321.2,953.84 321.5,954.58 321.7,955.25 321.9,956.16 322.0,956.76 322.1,957.54 322.2,958.67 322.3,960.38 322.4,962.99 322.5,966.85 322.6,972.08 322.7,978.43 322.8,985.06 322.9,990.50 323.0,992.70 323.1,990.50 323.2,985.06 323.3,978.43 323.4,972.08 323.5,966.85 323.6,962.99 323.7,960.38 323.8,958.67 323.9,957.54 324.0,956.76 324.1,956.10 324.3,955.08 324.5,954.29 324.8,953.39 325.2,952.51 325.7,951.72 326.5,950.82 327.0,950.37 328.8,950.08 333.3,949.89 364.1,949.80 404.2,949.80 444.3,949.79 484.4,949.78 505.6,949.68 508.3,949.51 509.4,949.23 510.2,948.76 510.8,948.15 511.2,947.51 511.5,946.78 511.6,946.43 511.7,945.97 511.8,945.31 511.9,944.33 512.0,942.84 512.1,940.62 512.2,937.45 512.3,933.19 512.4,927.82 512.5,921.65 512.6,915.85 512.7,913.00 512.8,914.87 513.0,924.27 513.1,927.76 513.2,929.62 513.3,929.80 513.4,928.53 513.5,926.49 513.6,925.00 513.7,924.92 513.8,925.35 513.9,924.99 514.0,923.31 514.1,920.36 514.2,916.95 514.3,915.00 514.4,915.77 514.5,917.68 514.6,918.52 514.7,917.23 514.8,913.60 514.9,908.05 515.0,902.26 515.1,899.80 515.2,903.17 515.3,909.96 515.4,916.62 515.5,921.47 515.6,924.03 515.7,924.32 515.8,922.77 515.9,920.57 516.0,920.00 516.1,922.67 516.2,927.39 516.3,932.28 516.4,936.50 516.5,939.85 516.6,942.35 516.7,944.12 516.8,945.32 516.9,946.12 517.0,946.67 517.1,947.06 517.3,947.61 517.6,948.14 518.1,948.71 518.8,949.14 519.9,949.45 522.4,949.61 528.4,949.58 530.8,949.38 531.8,949.11 532.3,948.79 532.6,948.43 532.7,948.24 532.8,947.96 532.9,947.55 533.0,946.90 533.1,945.88 533.2,944.35 533.3,942.13 533.4,939.13 533.5,935.34 533.6,930.98 533.7,926.91 533.8,925.00 533.9,926.55 534.0,930.24 534.1,934.15 534.2,937.35 534.3,939.52 534.4,940.47 534.5,940.07 534.6,938.16 534.7,934.62 534.8,929.36 534.9,922.48 535.0,914.43 535.1,906.86 535.2,903.30 535.3,906.16 535.5,919.59 535.6,924.58 535.7,927.18 535.8,927.25 535.9,924.98 536.0,920.98 536.1,916.70 536.2,915.00 536.3,917.83 536.4,923.51 536.5,929.52 536.6,934.72 536.7,938.83 536.8,941.84 536.9,943.92 537.0,945.27 537.1,946.12 537.2,946.64 537.3,946.96 537.5,947.32 537.8,947.52 538.2,947.50 538.7,947.17 539.0,946.79 539.3,946.18 539.4,945.87 539.5,945.45 539.6,944.86 539.7,943.96 539.8,942.60 539.9,940.57 540.0,937.67 540.1,933.78 540.2,928.87 540.3,923.20 540.4,917.81 540.5,915.00 540.6,916.27 540.7,919.80 540.8,922.91 540.9,924.21 541.0,923.07 541.1,919.26 541.2,912.91 541.3,904.68 541.4,896.57 541.5,892.80 541.6,896.20 541.8,911.56 541.9,917.19 542.0,920.04 542.1,919.95 542.2,917.14 542.3,912.31 542.4,907.16 542.5,905.00 542.6,908.09 542.7,914.44 542.8,921.01 542.9,926.36 543.0,929.99 543.1,931.73 543.2,931.56 543.3,929.61 543.4,926.12 543.5,921.56 543.6,917.09 543.7,915.00 543.8,916.83 543.9,920.94 544.0,924.93 544.1,927.51 544.2,928.12 544.3,926.44 544.4,922.41 544.5,916.19 544.6,908.42 544.7,900.96 544.8,897.70 544.9,901.30 545.0,909.17 545.1,917.53 545.2,924.62 545.3,929.90 545.4,933.21 545.5,934.52 545.6,933.86 545.7,931.27 545.8,926.82 545.9,920.66 546.0,913.28 546.1,906.17 546.2,902.60 546.3,904.73 546.4,910.08 546.5,915.10 546.6,918.17 546.7,918.89 546.8,917.54 546.9,915.37 547.0,915.00 547.1,918.34 547.2,924.00 547.3,929.80 547.4,934.76 547.5,938.68 547.6,941.58 547.7,943.62 547.8,944.98 547.9,945.88 548.0,946.48 548.1,946.90 548.3,947.45 548.6,947.98 549.1,948.52 549.9,948.99 551.1,949.33 553.4,949.56 560.2,949.62 564.7,949.45 566.3,949.19 567.1,948.84 567.5,948.48 567.8,948.01 567.9,947.76 568.0,947.41 568.1,946.90 568.2,946.12 568.3,944.91 568.4,943.09 568.5,940.47 568.6,936.94 568.7,932.48 568.8,927.34 568.9,922.47 569.0,920.00 569.1,921.34 569.2,924.84 569.3,928.12 569.4,929.93 569.5,929.79 569.6,927.52 569.7,923.23 569.9,911.68 570.0,909.00 570.1,911.51 570.3,922.80 570.4,927.04 570.5,929.33 570.6,929.59 570.7,927.98 570.8,924.94 570.9,921.58 571.0,920.00 571.1,921.59 571.2,925.01 571.3,928.21 571.4,930.17 571.5,930.48 571.6,929.03 571.7,925.92 571.9,917.22 572.0,915.30 572.1,917.52 572.2,922.31 572.3,927.39 572.4,931.69 572.5,934.88 572.6,936.88 572.7,937.67 572.8,937.23 572.9,935.47 573.0,932.32 573.1,927.71 573.2,921.71 573.3,914.70 573.4,908.11 573.5,905.00 573.6,907.46 573.8,919.00 573.9,923.11 574.0,924.86 574.1,923.93 574.2,920.27 574.3,914.13 574.4,906.21 574.5,898.46 574.6,894.90 574.7,898.22 574.9,913.02 575.0,918.37 575.1,920.98 575.2,920.68 575.3,917.69 575.4,912.66 575.5,907.32 575.6,905.00 575.7,907.97 575.9,920.16 576.0,924.52 576.1,926.52 576.2,925.86 576.3,922.50 576.4,916.66 576.6,901.43 576.7,897.70 576.8,900.36 576.9,906.67 577.0,912.69 577.1,916.59 577.2,917.95 577.3,917.05 577.4,915.17 577.5,915.00 577.6,918.49 577.7,924.27 577.8,930.14 577.9,935.17 578.0,939.12 578.1,942.05 578.2,944.09 578.3,945.45 578.4,946.34 578.5,946.92 578.6,947.32 578.8,947.83 579.1,948.28 579.6,948.69 580.4,948.97 581.6,949.03 583.0,948.78 584.4,948.22 585.8,947.35 586.9,946.45 587.2,946.08 587.4,945.64 587.5,945.31 587.6,944.90 587.9,943.28 588.0,943.00 588.1,943.13 588.4,944.28 588.5,944.54 588.7,944.80 588.9,944.81 589.2,944.54 589.4,944.09 589.5,943.72 589.6,943.23 589.7,942.63 589.9,941.31 590.0,941.00 590.1,941.23 590.4,942.92 590.5,943.32 590.6,943.61 590.7,943.79 590.9,943.94 591.1,943.87 591.2,943.75 591.3,943.54 591.4,943.21 591.5,942.73 591.6,942.08 591.7,941.24 591.9,939.39 592.0,939.00 592.1,939.41 592.3,941.30 592.4,942.15 592.5,942.82 592.6,943.31 592.7,943.65 592.8,943.85 593.0,944.01 593.1,943.98 593.2,943.87 593.3,943.64 593.4,943.25 593.5,942.67 593.6,941.86 593.7,940.82 593.8,939.61 593.9,938.49 594.0,938.00 594.1,938.52 594.2,939.67 594.3,940.91 594.4,941.98 594.5,942.81 594.6,943.42 594.7,943.83 594.8,944.07 595.0,944.25 595.2,944.19 595.4,943.93 595.5,943.68 595.6,943.29 595.7,942.68 595.8,941.76 595.9,940.45 596.0,938.68 596.1,936.44 596.2,933.86 596.3,931.37 596.4,930.00 596.5,930.39 596.6,931.72 596.7,932.75 596.8,932.74 596.9,931.27 597.0,928.03 597.1,922.87 597.2,915.83 597.3,907.41 597.4,899.27 597.5,895.00 597.6,896.92 597.7,902.16 597.8,906.53 597.9,907.76 598.0,904.81 598.1,897.25 598.2,885.29 598.3,870.06 598.4,855.22 598.5,848.40 598.6,854.79 598.7,869.12 598.8,883.62 598.9,894.55 599.0,900.65 599.1,901.67 599.2,898.01 599.3,890.86 599.4,883.06 599.5,880.00 599.6,885.42 599.7,896.19 599.8,907.53 599.9,917.30 600.0,924.94 600.1,930.42 600.2,933.95 600.3,935.84 600.4,936.38 600.5,935.81 600.6,934.28 600.7,931.94 600.8,929.04 600.9,926.26 601.0,925.00 601.1,926.22 601.3,931.58 601.4,933.44 601.5,934.13 601.6,933.39 601.7,931.05 601.8,927.06 601.9,921.51 602.0,914.83 602.1,908.36 602.2,905.00 602.3,906.63 602.4,910.89 602.5,914.38 602.6,915.21 602.7,912.52 602.8,905.95 602.9,895.67 603.0,882.68 603.1,870.14 603.2,864.60 603.3,870.52 603.4,883.44 603.5,896.78 603.6,907.44 603.7,914.45 603.8,917.70 603.9,917.52 604.0,914.76 604.1,911.19 604.2,910.00 604.3,913.38 604.4,919.66 604.5,926.24 604.6,931.98 604.7,936.56 604.8,939.97 604.9,942.37 605.0,943.98 605.1,945.03 605.2,945.71 605.3,946.16 605.5,946.71 606.0,947.76 606.3,948.11 606.6,948.20 606.9,948.09 607.1,948.22 607.4,948.57 607.6,948.60 607.8,948.44 608.1,948.00 608.2,948.03 608.6,948.78 608.8,948.97 609.0,948.99 609.2,948.83 609.4,948.46 609.6,948.02 609.7,947.95 609.8,948.08 610.1,948.78 610.3,949.05 610.5,949.14 610.8,949.00 611.1,948.67 611.2,948.66 611.7,949.16 612.0,949.23 612.3,949.10 612.5,948.83 612.9,947.86 613.0,947.85 613.2,948.29 613.4,948.72 613.6,948.90 613.8,948.82 614.0,948.49 614.2,948.00 614.3,947.85 614.4,947.90 614.8,948.71 615.1,948.94 615.6,948.88 616.3,948.41 616.8,948.39 617.2,948.15 617.6,947.67 617.9,947.22 618.3,946.74 618.5,946.30 618.6,945.98 618.7,945.57 618.8,944.99 618.9,944.14 619.0,942.85 619.1,940.84 619.2,937.82 619.3,933.48 619.4,927.64 619.5,920.26 619.6,911.78 619.7,903.82 619.8,900.00 619.9,902.77 620.0,909.53 620.1,916.47 620.2,921.65 620.3,924.27 620.4,923.86 620.5,920.15 620.6,913.13 620.7,903.09 620.8,890.92 620.9,879.28 621.0,873.80 621.1,878.26 621.3,899.09 621.4,906.74 621.5,910.61 621.6,910.47 621.7,906.62 621.8,900.01 621.9,892.97 622.0,890.00 622.1,894.21 622.2,902.87 622.3,911.84 622.4,919.15 622.5,924.13 622.6,926.54 622.7,926.37 622.8,923.80 622.9,919.18 623.0,913.14 623.1,907.26 623.2,904.70 623.3,907.60 623.4,913.89 623.5,920.54 623.6,926.10 623.7,930.13 623.8,932.48 623.9,933.14 624.0,932.18 624.1,929.73 624.2,926.00 624.3,921.39 624.4,916.98 624.5,915.00 624.6,916.96 624.7,921.37 624.8,926.03 624.9,929.94 625.0,932.76 625.1,934.38 625.2,934.73 625.3,933.68 625.4,931.10 625.5,926.80 625.6,920.65 625.7,912.70 625.8,903.43 625.9,894.57 626.0,890.00 626.1,892.23 626.2,898.15 626.3,903.25 626.4,905.11 626.5,902.63 626.6,895.42 626.7,883.66 626.8,868.54 626.9,853.75 627.0,847.00 627.1,853.52 627.2,868.03 627.3,882.75 627.4,893.91 627.5,900.27 627.6,901.58 627.7,898.23 627.8,891.33 627.9,883.56 628.0,880.00 628.1,884.06 628.2,892.54 628.3,900.70 628.4,906.35 628.5,908.97 628.6,908.88 628.7,907.47 628.8,907.60 628.9,911.37 629.0,917.35 629.1,923.22 629.2,927.86 629.3,930.91 629.4,932.22 629.5,931.75 629.6,929.60 629.7,925.98 629.8,921.34 629.9,916.87 630.0,915.00 630.1,917.39 630.2,922.44 630.3,927.81 630.4,932.44 630.5,936.03 630.6,938.56 630.7,940.10 630.8,940.74 630.9,940.60 631.0,939.73 631.1,938.18 631.2,936.03 631.3,933.46 631.4,931.04 631.5,930.00 631.6,931.17 631.7,933.73 631.8,936.45 631.9,938.79 632.0,940.57 632.1,941.79 632.2,942.45 632.3,942.60 632.4,942.26 632.5,941.43 632.6,940.14 632.7,938.40 632.8,936.37 632.9,934.45 633.0,933.60 633.1,934.45 633.2,936.36 633.3,938.40 633.4,940.15 633.5,941.49 633.6,942.42 633.7,942.95 633.8,943.12 633.9,942.96 634.0,942.51 634.1,941.78 634.2,940.79 634.4,938.51 634.5,938.00 634.6,938.43 634.8,940.53 634.9,941.40 635.0,941.99 635.1,942.23 635.2,942.12 635.3,941.65 635.4,940.81 635.5,939.65 635.7,936.98 635.8,936.40 635.9,936.98 636.0,938.28 636.1,939.68 636.2,940.90 636.3,941.84 636.4,942.53 636.5,942.97 636.6,943.22 636.7,943.32 636.8,943.27 636.9,943.09 637.0,942.77 637.1,942.30 637.2,941.68 637.4,940.30 637.5,940.00 637.6,940.31 637.8,941.70 637.9,942.31 638.0,942.75 638.1,943.00 638.2,943.04 638.3,942.85 638.4,942.38 638.5,941.61 638.6,940.49 638.7,939.04 638.8,937.35 638.9,935.76 639.0,935.00 639.1,935.57 639.3,938.17 639.4,938.95 639.5,939.06 639.6,938.47 639.7,937.20 639.9,933.66 640.0,932.90 640.1,933.85 640.3,937.82 640.4,939.34 640.5,940.23 640.6,940.46 640.7,940.07 640.8,939.23 640.9,938.31 641.0,938.00 641.1,938.80 641.3,941.87 641.4,943.25 641.5,944.35 641.6,945.18 641.7,945.79 641.8,946.21 641.9,946.51 642.1,946.89 642.6,947.47 643.6,948.22 644.9,948.85 646.5,949.29 648.6,949.50 650.9,949.45 651.9,949.23 652.3,948.93 652.4,948.77 652.5,948.52 652.6,948.13 652.7,947.50 652.8,946.53 652.9,945.13 653.0,943.22 653.1,940.80 653.2,938.03 653.3,935.45 653.4,934.30 653.5,935.43 653.6,938.00 653.7,940.76 653.8,943.16 653.9,945.05 654.0,946.44 654.1,947.39 654.2,948.00 654.3,948.38 654.4,948.61 654.6,948.83 655.1,948.97 655.7,948.87 656.2,948.54 656.4,948.26 656.5,948.04 656.6,947.71 656.7,947.20 656.8,946.40 656.9,945.19 657.0,943.45 657.1,941.10 657.2,938.13 657.3,934.72 657.4,931.52 657.5,930.00 657.6,931.15 657.7,933.93 657.8,936.83 657.9,939.09 658.0,940.40 658.1,940.56 658.2,939.42 658.3,936.86 658.4,932.84 658.5,927.46 658.6,921.13 658.7,915.19 658.8,912.50 658.9,915.04 659.0,920.82 659.1,926.95 659.2,932.07 659.3,935.76 659.4,937.91 659.5,938.57 659.6,937.89 659.7,936.12 659.9,931.10 660.0,930.00 660.1,931.27 660.2,934.02 660.3,936.94 660.4,939.43 660.5,941.35 660.6,942.68 660.7,943.49 660.8,943.88 660.9,943.94 661.0,943.68 661.1,943.10 661.2,942.06 661.3,940.38 661.4,937.80 661.5,934.06 661.6,929.00 661.7,922.61 661.8,915.25 661.9,908.34 662.0,905.00 662.1,907.37 662.2,913.22 662.3,919.28 662.4,923.90 662.5,926.36 662.6,926.17 662.7,922.91 662.8,916.25 662.9,906.06 663.0,892.54 663.1,876.67 663.2,861.73 663.3,854.80 663.4,860.70 663.5,874.39 663.6,888.51 663.7,899.55 663.8,906.41 663.9,908.88 664.0,907.34 664.1,902.76 664.2,897.33 664.3,895.00 664.4,898.49 664.5,905.42 664.6,912.21 664.7,917.17 664.8,919.79 664.9,920.08 665.0,918.46 665.1,916.05 665.2,915.00 665.3,916.78 665.4,920.06 665.5,922.81 665.6,924.01 665.7,923.34 665.8,920.81 665.9,916.83 666.0,912.67 666.1,911.00 666.2,913.65 666.3,918.99 666.4,924.56 666.5,929.22 666.6,932.60 666.7,934.56 666.8,935.02 666.9,933.92 667.0,931.22 667.1,926.92 667.2,921.14 667.3,914.31 667.4,907.88 667.5,905.00 667.6,907.80 667.7,914.12 667.8,920.78 667.9,926.28 668.0,930.05 668.1,931.82 668.2,931.35 668.3,928.39 668.4,922.73 668.5,914.24 668.6,903.08 668.7,890.04 668.8,877.84 668.9,872.40 669.0,877.78 669.1,889.84 669.2,902.53 669.3,913.02 669.4,920.39 669.5,924.47 669.6,925.44 669.7,923.79 669.8,920.29 669.9,916.45 670.0,915.00 670.1,917.78 670.2,923.22 670.3,928.93 670.4,933.83 670.5,937.61 670.6,940.22 670.7,941.72 670.8,942.22 670.9,941.84 671.0,940.68 671.1,938.86 671.2,936.60 671.3,934.46 671.4,933.60 671.5,934.84 671.6,937.38 671.7,940.09 671.8,942.45 671.9,944.32 672.0,945.72 672.1,946.70 672.2,947.35 672.3,947.79 672.4,948.08 672.6,948.43 673.0,948.80 673.8,949.17 675.4,949.46 679.7,949.66 702.3,949.77 742.4,949.79 782.5,949.80 822.6,949.80 862.7,949.80 902.8,949.80 942.9,949.80 983.0,949.80 1023.1,949.80 1063.2,949.80 1103.3,949.80 1143.4,949.80 1183.5,949.80 1223.6,949.80 1263.7,949.80 1303.8,949.80 1319.1,949.74 1320.0,949.60 1320.2,949.44 1320.3,949.28 1320.4,949.04 1320.5,948.69 1320.6,948.22 1320.7,947.62 1320.9,946.29 1321.0,946.00 1321.1,946.28 1321.3,947.61 1321.4,948.20 1321.5,948.68 1321.6,949.02 1321.7,949.26 1321.9,949.50 1322.4,949.64 1323.2,949.56 1323.4,949.43 1323.6,949.10 1323.7,948.79 1323.8,948.33 1323.9,947.71 1324.0,946.92 1324.2,945.17 1324.3,944.80 1324.4,945.17 1324.6,946.92 1324.7,947.71 1324.8,948.33 1324.9,948.79 1325.0,949.10 1325.2,949.43 1325.6,949.61 1326.5,949.61 1326.8,949.46 1327.0,949.12 1327.1,948.82 1327.2,948.41 1327.5,946.74 1327.6,946.50 1327.7,946.75 1328.0,948.42 1328.1,948.84 1328.2,949.14 1328.4,949.48 1328.7,949.65 1330.5,949.77 1345.0,949.80" fill="none" stroke="#bf2222" stroke-width="1.2" stroke-linejoin="round"/>
<text transform="translate(0.63,54.00) scale(0.7927,1)" font-family="'Liberation Sans', sans-serif" font-weight="normal" font-size="46.81" fill="#000" >NCYC 65 in Sucrose</text>
<text transform="translate(10.92,99.40) scale(0.8012,1)" font-family="'Liberation Sans', sans-serif" font-weight="normal" font-size="30.87" fill="#000" >Expansion: 6.0-0.5</text>
<text transform="translate(11.18,135.60) scale(0.8283,1)" font-family="'Liberation Sans', sans-serif" font-weight="normal" font-size="30.00" fill="#000" >ppm</text>
<text transform="translate(44.40,297.81) scale(0.7634,1)" font-family="'Liberation Sans', sans-serif" font-weight="normal" font-size="49.09" fill="#000" >a</text>
<text transform="translate(9.90,340.60) scale(0.8392,1)" font-family="'Liberation Sans', sans-serif" font-weight="bold" font-size="22.07" fill="#000" >NCYC 65 in sucrose</text>
<text transform="translate(199.31,219.60) scale(0.8071,1)" font-family="'Liberation Sans', sans-serif" font-weight="normal" font-size="27.00" fill="#0ea452" >Glucose</text>
<text transform="translate(517.16,163.90) scale(0.7808,1)" font-family="'Liberation Sans', sans-serif" font-weight="normal" font-size="27.83" fill="#e0101a" >Fructose</text>
<text transform="translate(43.23,504.91) scale(0.8711,1)" font-family="'Liberation Sans', sans-serif" font-weight="normal" font-size="48.98" fill="#4a7cc4" >b</text>
<text transform="translate(50.25,540.30) scale(0.7840,1)" font-family="'Liberation Sans', sans-serif" font-weight="bold" font-size="23.57" fill="#4a7cc4" >Sucrose</text>
<text transform="translate(44.94,712.90) scale(0.8306,1)" font-family="'Liberation Sans', sans-serif" font-weight="normal" font-size="49.82" fill="#00b050" >c</text>
<text transform="translate(59.56,745.80) scale(0.8471,1)" font-family="'Liberation Sans', sans-serif" font-weight="bold" font-size="21.93" fill="#0aa84e" >Glucose</text>
<text transform="translate(43.56,885.31) scale(0.8279,1)" font-family="'Liberation Sans', sans-serif" font-weight="normal" font-size="49.39" fill="#ff0000" >d</text>
<text transform="translate(54.99,924.90) scale(0.8223,1)" font-family="'Liberation Sans', sans-serif" font-weight="bold" font-size="22.61" fill="#e8000e" >Fructose</text>
<text transform="translate(258.46,974.69) scale(0.7179,1)" font-family="'Liberation Sans', sans-serif" font-weight="bold" font-size="11.14" fill="#333" >5</text>
<rect x="265.5" y="973.1" width="1.7" height="1.7" fill="#333"/>
<text transform="translate(269.99,974.68) scale(0.6584,1)" font-family="'Liberation Sans', sans-serif" font-weight="bold" font-size="11.83" fill="#333" >0</text>
<text transform="translate(275.49,974.68) scale(0.6584,1)" font-family="'Liberation Sans', sans-serif" font-weight="bold" font-size="11.83" fill="#333" >0</text>
<text transform="translate(534.86,974.80) scale(0.6614,1)" font-family="'Liberation Sans', sans-serif" font-weight="bold" font-size="11.30" fill="#333" >4</text>
<rect x="541.8" y="973.1" width="1.7" height="1.7" fill="#333"/>
<text transform="translate(546.26,974.68) scale(0.6584,1)" font-family="'Liberation Sans', sans-serif" font-weight="bold" font-size="11.83" fill="#333" >0</text>
<text transform="translate(551.76,974.68) scale(0.6584,1)" font-family="'Liberation Sans', sans-serif" font-weight="bold" font-size="11.83" fill="#333" >0</text>
<text transform="translate(811.04,974.69) scale(0.7356,1)" font-family="'Liberation Sans', sans-serif" font-weight="bold" font-size="10.99" fill="#333" >3</text>
<rect x="818.0" y="973.1" width="1.7" height="1.7" fill="#333"/>
<text transform="translate(822.53,974.68) scale(0.6584,1)" font-family="'Liberation Sans', sans-serif" font-weight="bold" font-size="11.83" fill="#333" >0</text>
<text transform="translate(828.03,974.68) scale(0.6584,1)" font-family="'Liberation Sans', sans-serif" font-weight="bold" font-size="11.83" fill="#333" >0</text>
<text transform="translate(1087.22,974.80) scale(0.7479,1)" font-family="'Liberation Sans', sans-serif" font-weight="bold" font-size="11.14" fill="#333" >2</text>
<rect x="1094.3" y="973.1" width="1.7" height="1.7" fill="#333"/>
<text transform="translate(1098.80,974.68) scale(0.6584,1)" font-family="'Liberation Sans', sans-serif" font-weight="bold" font-size="11.83" fill="#333" >0</text>
<text transform="translate(1104.30,974.68) scale(0.6584,1)" font-family="'Liberation Sans', sans-serif" font-weight="bold" font-size="11.83" fill="#333" >0</text>
<line x1="79.3" y1="992.8" x2="1346" y2="992.8" stroke="#5c0404" stroke-width="2.2"/>
<line x1="666" y1="995.5" x2="951.7" y2="995.5" stroke="#c8c8c8" stroke-width="1.2"/>
<rect x="79.3" y="984" width="4.2" height="8" fill="#e00"/>
<line x1="105.0" y1="988.8" x2="105.0" y2="992.8" stroke="#555" stroke-width="1"/>
<line x1="132.7" y1="988.8" x2="132.7" y2="992.8" stroke="#555" stroke-width="1"/>
<line x1="160.3" y1="988.8" x2="160.3" y2="992.8" stroke="#555" stroke-width="1"/>
<line x1="187.9" y1="988.8" x2="187.9" y2="992.8" stroke="#555" stroke-width="1"/>
<line x1="215.5" y1="988.8" x2="215.5" y2="992.8" stroke="#555" stroke-width="1"/>
<line x1="243.2" y1="988.8" x2="243.2" y2="992.8" stroke="#555" stroke-width="1"/>
<line x1="270.8" y1="984" x2="270.8" y2="992.8" stroke="#555" stroke-width="1"/>
<line x1="298.4" y1="988.8" x2="298.4" y2="992.8" stroke="#555" stroke-width="1"/>
<line x1="326.1" y1="988.8" x2="326.1" y2="992.8" stroke="#555" stroke-width="1"/>
<line x1="353.7" y1="988.8" x2="353.7" y2="992.8" stroke="#555" stroke-width="1"/>
<line x1="381.3" y1="988.8" x2="381.3" y2="992.8" stroke="#555" stroke-width="1"/>
<line x1="408.9" y1="988.8" x2="408.9" y2="992.8" stroke="#555" stroke-width="1"/>
<line x1="436.6" y1="988.8" x2="436.6" y2="992.8" stroke="#555" stroke-width="1"/>
<line x1="464.2" y1="988.8" x2="464.2" y2="992.8" stroke="#555" stroke-width="1"/>
<line x1="491.8" y1="988.8" x2="491.8" y2="992.8" stroke="#555" stroke-width="1"/>
<line x1="519.4" y1="988.8" x2="519.4" y2="992.8" stroke="#555" stroke-width="1"/>
<line x1="547.1" y1="984" x2="547.1" y2="992.8" stroke="#555" stroke-width="1"/>
<line x1="574.7" y1="988.8" x2="574.7" y2="992.8" stroke="#555" stroke-width="1"/>
<line x1="602.3" y1="988.8" x2="602.3" y2="992.8" stroke="#555" stroke-width="1"/>
<line x1="630.0" y1="988.8" x2="630.0" y2="992.8" stroke="#555" stroke-width="1"/>
<line x1="657.6" y1="988.8" x2="657.6" y2="992.8" stroke="#555" stroke-width="1"/>
<line x1="685.2" y1="988.8" x2="685.2" y2="992.8" stroke="#555" stroke-width="1"/>
<line x1="712.8" y1="988.8" x2="712.8" y2="992.8" stroke="#555" stroke-width="1"/>
<line x1="740.5" y1="988.8" x2="740.5" y2="992.8" stroke="#555" stroke-width="1"/>
<line x1="768.1" y1="988.8" x2="768.1" y2="992.8" stroke="#555" stroke-width="1"/>
<line x1="795.7" y1="988.8" x2="795.7" y2="992.8" stroke="#555" stroke-width="1"/>
<line x1="823.3" y1="984" x2="823.3" y2="992.8" stroke="#555" stroke-width="1"/>
<line x1="851.0" y1="988.8" x2="851.0" y2="992.8" stroke="#555" stroke-width="1"/>
<line x1="878.6" y1="988.8" x2="878.6" y2="992.8" stroke="#555" stroke-width="1"/>
<line x1="906.2" y1="988.8" x2="906.2" y2="992.8" stroke="#555" stroke-width="1"/>
<line x1="933.8" y1="988.8" x2="933.8" y2="992.8" stroke="#555" stroke-width="1"/>
<line x1="961.5" y1="988.8" x2="961.5" y2="992.8" stroke="#555" stroke-width="1"/>
<line x1="989.1" y1="988.8" x2="989.1" y2="992.8" stroke="#555" stroke-width="1"/>
<line x1="1016.7" y1="988.8" x2="1016.7" y2="992.8" stroke="#555" stroke-width="1"/>
<line x1="1044.4" y1="988.8" x2="1044.4" y2="992.8" stroke="#555" stroke-width="1"/>
<line x1="1072.0" y1="988.8" x2="1072.0" y2="992.8" stroke="#555" stroke-width="1"/>
<line x1="1099.6" y1="984" x2="1099.6" y2="992.8" stroke="#555" stroke-width="1"/>
<line x1="1127.2" y1="988.8" x2="1127.2" y2="992.8" stroke="#555" stroke-width="1"/>
<line x1="1154.9" y1="988.8" x2="1154.9" y2="992.8" stroke="#555" stroke-width="1"/>
<line x1="1182.5" y1="988.8" x2="1182.5" y2="992.8" stroke="#555" stroke-width="1"/>
<line x1="1210.1" y1="988.8" x2="1210.1" y2="992.8" stroke="#555" stroke-width="1"/>
<line x1="1237.7" y1="988.8" x2="1237.7" y2="992.8" stroke="#555" stroke-width="1"/>
<line x1="1265.4" y1="988.8" x2="1265.4" y2="992.8" stroke="#555" stroke-width="1"/>
<line x1="1293.0" y1="988.8" x2="1293.0" y2="992.8" stroke="#555" stroke-width="1"/>
<line x1="1320.6" y1="988.8" x2="1320.6" y2="992.8" stroke="#555" stroke-width="1"/>
<defs>
<pattern id="psuc" patternUnits="userSpaceOnUse" x="1134.4" y="154.8" width="6.2" height="3.8">
<rect x="-1" y="-1" width="9" height="6" fill="#000"/>
<circle cx="0" cy="0" r="0.85" fill="#fff"/><circle cx="6.2" cy="0" r="0.85" fill="#fff"/>
<circle cx="0" cy="3.8" r="0.85" fill="#fff"/><circle cx="6.2" cy="3.8" r="0.85" fill="#fff"/>
<circle cx="3.1" cy="1.9" r="0.85" fill="#fff"/></pattern>
<pattern id="pfru" patternUnits="userSpaceOnUse" x="1001.6" y="201.8" width="6.17" height="7.54">
<rect x="-1" y="-1" width="9" height="10" fill="#fff"/>
<circle cx="0" cy="0" r="1.0" fill="#000"/><circle cx="6.17" cy="0" r="1.0" fill="#000"/>
<circle cx="0" cy="7.54" r="1.0" fill="#000"/><circle cx="6.17" cy="7.54" r="1.0" fill="#000"/>
<circle cx="3.085" cy="3.77" r="1.0" fill="#000"/></pattern>
<pattern id="psucL" patternUnits="userSpaceOnUse" x="949" y="328" width="6.2" height="3.8">
<rect x="-1" y="-1" width="9" height="6" fill="#000"/>
<circle cx="0" cy="0" r="1.0" fill="#fff"/><circle cx="6.2" cy="0" r="1.0" fill="#fff"/>
<circle cx="0" cy="3.8" r="1.0" fill="#fff"/><circle cx="6.2" cy="3.8" r="1.0" fill="#fff"/>
<circle cx="3.1" cy="1.9" r="1.0" fill="#fff"/></pattern>
<pattern id="pfruL" patternUnits="userSpaceOnUse" x="1140.3" y="326.3" width="6.7" height="7.5">
<rect x="-1" y="-1" width="9" height="10" fill="#fff"/>
<circle cx="0" cy="0" r="0.9" fill="#000"/><circle cx="6.7" cy="0" r="0.9" fill="#000"/>
<circle cx="0" cy="7.5" r="0.9" fill="#000"/><circle cx="6.7" cy="7.5" r="0.9" fill="#000"/>
<circle cx="3.35" cy="3.75" r="0.9" fill="#000"/></pattern>
<pattern id="pglu" patternUnits="userSpaceOnUse" x="949" y="205.2" width="6.2" height="7.6">
<rect x="-1" y="-1" width="9" height="10" fill="#fff"/>
<path d="M-6.2,-7.6 L12.4,15.2 M0,-7.6 L18.6,15.2 M-12.4,-7.6 L6.2,15.2" stroke="#000" stroke-width="1.15"/></pattern>
</defs>
<rect x="948.5" y="164.5" width="41.3" height="101.3" fill="url(#pglu)"/>
<rect x="1000.5" y="140.3" width="42.1" height="125.5" fill="url(#pfru)"/>
<rect x="1133.3" y="45.1" width="40.7" height="220.7" fill="url(#psuc)"/>
<rect x="912.4" y="264" width="9.6" height="1.5" fill="#000"/>
<rect x="851.2" y="4.5" width="473.1" height="261.3" fill="none" stroke="#000" stroke-width="2"/>
<line x1="845.6" y1="266" x2="851.2" y2="266" stroke="#000" stroke-width="2"/>
<line x1="845.6" y1="218" x2="851.2" y2="218" stroke="#000" stroke-width="2"/>
<line x1="845.6" y1="170" x2="851.2" y2="170" stroke="#000" stroke-width="2"/>
<line x1="845.6" y1="122" x2="851.2" y2="122" stroke="#000" stroke-width="2"/>
<line x1="845.6" y1="74" x2="851.2" y2="74" stroke="#000" stroke-width="2"/>
<line x1="845.6" y1="26" x2="851.2" y2="26" stroke="#000" stroke-width="2"/>
<line x1="851.2" y1="259.6" x2="851.2" y2="272" stroke="#000" stroke-width="2"/>
<line x1="1087.6" y1="259.6" x2="1087.6" y2="272" stroke="#000" stroke-width="2"/>
<line x1="1324.3" y1="259.6" x2="1324.3" y2="272" stroke="#000" stroke-width="2"/>
<path d="M969.2,156.2 V172.7 M965.2,156.2 H973.2 M965.2,172.7 H973.2" stroke="#595959" stroke-width="1.4" fill="none"/>
<path d="M1022,129.8 V149.6 M1017.5,129.8 H1026.5 M1017.5,149.6 H1026.5" stroke="#595959" stroke-width="1.4" fill="none"/>
<path d="M1153.8,23.7 V65.9 M1149.05,23.7 H1158.55 M1149.05,65.9 H1158.55" stroke="#595959" stroke-width="1.4" fill="none"/>
<polyline points="958.4,134.8 966.7,134.8 969,170" fill="none" stroke="#8c8c8c" stroke-width="1.3"/>
<polyline points="1022.8,138.4 1049.6,112" fill="none" stroke="#8c8c8c" stroke-width="1.3"/>
<polyline points="1154.7,43.8 1175.9,33.6 1184,33.6" fill="none" stroke="#8c8c8c" stroke-width="1.3"/>
<text transform="translate(824.67,273.66) scale(0.7952,1)" font-family="'Liberation Sans', sans-serif" font-weight="normal" font-size="23.52" fill="#000" >0</text>
<text transform="translate(824.82,225.90) scale(0.7952,1)" font-family="'Liberation Sans', sans-serif" font-weight="normal" font-size="23.86" fill="#000" >2</text>
<text transform="translate(824.30,177.90) scale(0.7952,1)" font-family="'Liberation Sans', sans-serif" font-weight="normal" font-size="24.20" fill="#000" >4</text>
<text transform="translate(824.77,129.66) scale(0.7952,1)" font-family="'Liberation Sans', sans-serif" font-weight="normal" font-size="23.52" fill="#000" >6</text>
<text transform="translate(824.77,81.66) scale(0.7952,1)" font-family="'Liberation Sans', sans-serif" font-weight="normal" font-size="23.52" fill="#000" >8</text>
<text transform="translate(814.60,33.46) scale(0.7950,1)" font-family="'Liberation Sans', sans-serif" font-weight="normal" font-size="23.52" fill="#000" >10</text>
<text transform="translate(898.29,249.56) scale(0.7454,1)" font-family="'Liberation Sans', sans-serif" font-weight="normal" font-size="23.80" fill="#000" >0.01</text>
<text transform="translate(914.52,143.30) scale(0.7939,1)" font-family="'Liberation Sans', sans-serif" font-weight="normal" font-size="23.71" fill="#000" >4.22</text>
<text transform="translate(1031.16,103.27) scale(0.7961,1)" font-family="'Liberation Sans', sans-serif" font-weight="normal" font-size="23.38" fill="#000" >5.24</text>
<text transform="translate(1189.86,41.76) scale(0.7931,1)" font-family="'Liberation Sans', sans-serif" font-weight="normal" font-size="23.66" fill="#000" >9.20</text>
<text transform="translate(1187.66,249.46) scale(0.7842,1)" font-family="'Liberation Sans', sans-serif" font-weight="normal" font-size="23.66" fill="#000" >0.00</text>
<text transform="translate(1239.86,249.46) scale(0.7842,1)" font-family="'Liberation Sans', sans-serif" font-weight="normal" font-size="23.66" fill="#000" >0.00</text>
<text transform="translate(930.21,299.70) scale(0.8016,1)" font-family="'Liberation Sans', sans-serif" font-weight="normal" font-size="23.19" fill="#000" >NCYC 65</text>
<text transform="translate(1139.06,299.80) scale(0.7836,1)" font-family="'Liberation Sans', sans-serif" font-weight="normal" font-size="23.71" fill="#000" >Sucrose Control</text>
<text transform="translate(958.47,338.50) scale(0.7977,1)" font-family="'Liberation Sans', sans-serif" font-weight="normal" font-size="23.14" fill="#000" >Sucrose</text>
<text transform="translate(1057.37,338.70) scale(0.7855,1)" font-family="'Liberation Sans', sans-serif" font-weight="normal" font-size="23.57" fill="#000" >Glucose</text>
<text transform="translate(1151.52,338.60) scale(0.7885,1)" font-family="'Liberation Sans', sans-serif" font-weight="normal" font-size="23.48" fill="#000" >Fructose</text>
<rect x="945" y="326" width="9.3" height="11.5" fill="url(#psucL)"/>
<rect x="1044" y="326.5" width="9.3" height="10.5" fill="url(#pglu)"/>
<rect x="1139.3" y="325.3" width="8.7" height="12.8" fill="url(#pfruL)"/>
<text transform="translate(794.70,245.80) rotate(-90) scale(1.2044,1)" font-family="'Liberation Sans', sans-serif" font-size="16.68" fill="#000">Concentration of sugars</text>
<text transform="translate(813.13,174.25) rotate(-90) scale(1.2982,1)" font-family="'Liberation Sans', sans-serif" font-size="16.04" fill="#000">(mg/ml)</text>
<line x1="228.9" y1="238.4" x2="210.6" y2="332.0" stroke="#16a656" stroke-width="1.85"/><polygon points="208.3,343.8 205.1,328.9 216.9,331.2" fill="#00b050"/>
<line x1="228.9" y1="238.4" x2="209.0" y2="694.8" stroke="#16a656" stroke-width="1.85"/><polygon points="208.5,706.8 203.1,692.6 215.1,693.1" fill="#00b050"/>
<line x1="228.9" y1="238.4" x2="350.6" y2="345.7" stroke="#16a656" stroke-width="1.85"/><polygon points="359.6,353.6 345.1,348.8 353.1,339.8" fill="#00b050"/>
<line x1="228.9" y1="238.4" x2="356.2" y2="667.9" stroke="#16a656" stroke-width="1.85"/><polygon points="359.6,679.4 349.9,667.7 361.4,664.3" fill="#00b050"/>
<line x1="552.4" y1="182" x2="515.0" y2="320.1" stroke="#da1a22" stroke-width="1.85"/><polygon points="511.9,331.7 509.8,316.6 521.3,319.8" fill="#ff0000"/>
<line x1="552.4" y1="182" x2="646.7" y2="299.8" stroke="#da1a22" stroke-width="1.85"/><polygon points="654.2,309.2 640.8,302.0 650.1,294.5" fill="#ff0000"/>
<line x1="552.4" y1="182" x2="512.2" y2="881.0" stroke="#da1a22" stroke-width="1.85"/><polygon points="511.5,893.0 506.3,878.7 518.3,879.4" fill="#ff0000"/>
<line x1="552.4" y1="182" x2="658.6" y2="838.5" stroke="#da1a22" stroke-width="1.85"/><polygon points="660.5,850.3 652.3,837.4 664.2,835.5" fill="#ff0000"/>
</svg></body></html>
